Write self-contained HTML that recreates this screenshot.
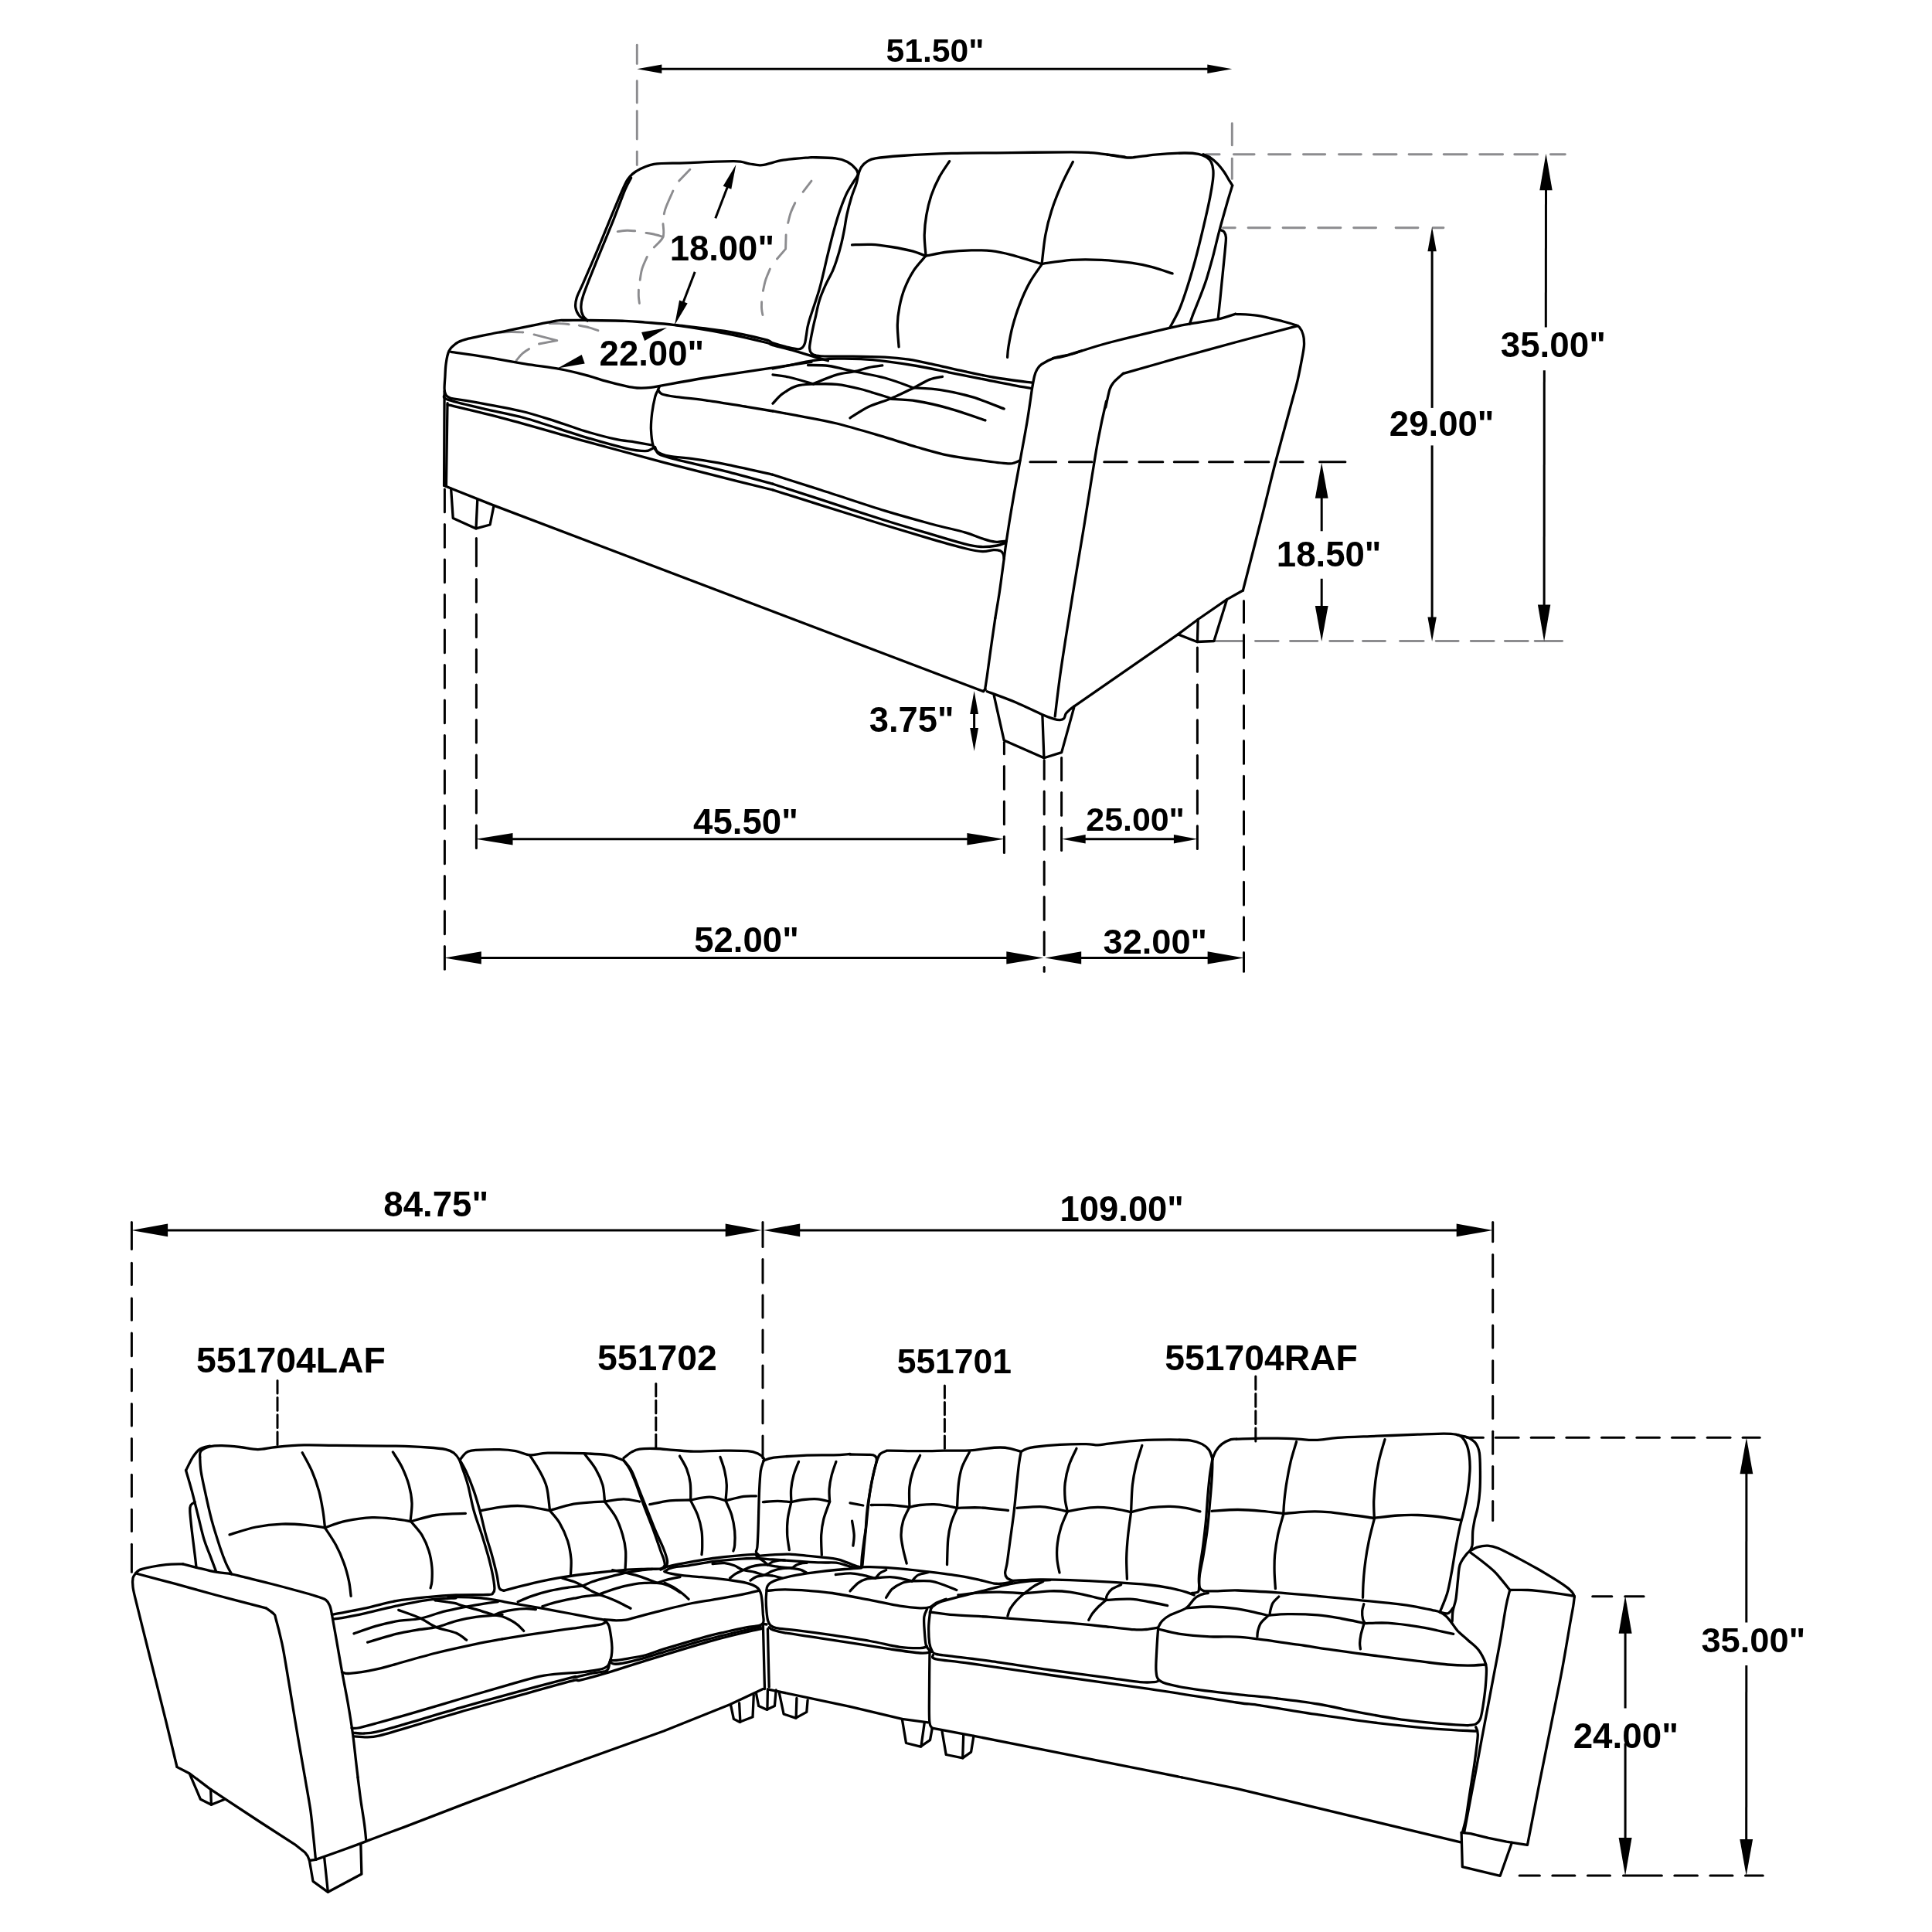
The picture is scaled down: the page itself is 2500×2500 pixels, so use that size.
<!DOCTYPE html>
<html lang="en"><head><meta charset="utf-8"><title>Sectional sofa dimensions</title>
<style>
html,body{margin:0;padding:0;background:#fff}
body{width:2500px;height:2500px;overflow:hidden}
svg{display:block;will-change:transform}
text{font-family:"Liberation Sans",Arial,Helvetica,sans-serif;font-weight:700;fill:#000}
path{fill:none;stroke-linecap:round;stroke-linejoin:round}
.k{stroke:#000;stroke-width:3.3}
.g{stroke:#8c8c8f;stroke-width:2.9}
.d{stroke:#000;stroke-width:3.0}
.m{stroke:#000;stroke-width:3.0}
.m{stroke-linecap:butt}
</style></head><body>
<svg width="2500" height="2500" viewBox="0 0 2500 2500" role="img" aria-label="Sectional sofa dimension drawing">
<rect width="2500" height="2500" fill="#fff"/>
<g class="g">
<path class="g" d="M892.9 219.3 L878.7 234.1"/>
<path class="g" d="M870.9 247 C869.4 250.5 863.8 262.8 861.9 267.7 C859.9 272.7 859.7 275.3 859.3 276.8"/>
<path class="g" d="M858 289.7 C858 292.5 859.9 301.5 858 306.6 C856 311.6 848.3 317.8 846.3 320"/>
<path class="g" d="M837.3 332.4 C836.2 335 832.3 343 830.8 348 C829.3 352.9 828.6 359.8 828.2 362.2"/>
<path class="g" d="M826.4 375.1 C826.4 376.7 826.2 381.3 826.4 384.2 C826.6 387.1 827.3 391.1 827.4 392.5"/>
<path class="g" d="M799.2 299.6 C801.3 299.4 807.6 298.4 811.4 298.3 C815.1 298.2 820 298.7 821.7 298.8"/>
<path class="g" d="M836 301.4 C837.9 301.7 844 302.6 847.6 303.5 C851.3 304.3 856.2 306 858 306.6"/>
<path class="g" d="M1050 234.1 L1039.1 248.3"/>
<path class="g" d="M1028.8 262.6 C1027.8 264.7 1024.6 271.2 1023.1 275.5 C1021.6 279.8 1020.3 286.3 1019.7 288.4"/>
<path class="g" d="M1017.1 304 L1016.6 322.1 L1005.5 335"/>
<path class="g" d="M996.4 348 C995.5 350.3 992.2 357.5 990.7 362.2 C989.2 366.9 987.9 374.1 987.4 376.4"/>
<path class="g" d="M985.6 390.7 C985.6 392.2 985.3 396.9 985.6 399.7 C985.8 402.5 986.6 406.2 986.9 407.5"/>
<path class="g" d="M711 418.6 C713 418.6 719.2 418.5 723.4 418.6 C727.6 418.8 734.2 419.5 736.3 419.7"/>
<path class="g" d="M749.3 421.2 C751.4 421.6 758.1 422.7 762.2 423.8 C766.3 424.9 771.9 427 773.9 427.7"/>
<path class="g" d="M645.8 430.3 C648.3 430.1 656.1 429.5 661.3 429.5 C666.5 429.4 674.2 429.9 676.8 430"/>
<path class="g" d="M691 432.9 L720.8 440.6 L697.5 445"/>
<path class="g" d="M684.6 451.5 C683.1 452.6 678.3 455.4 675.5 458 C672.7 460.5 669 465.5 667.8 467"/>
<path class="g" d="M824.3 58.2 L824.3 82.6"/>
<path class="g" d="M824.3 104.8 L824.3 133.1"/>
<path class="g" d="M824.3 143.6 L824.3 180.1"/>
<path class="g" d="M824.3 196.2 L824.3 213.6"/>
<path class="g" d="M1594.3 159.7 L1594.3 187.9"/>
<path class="g" d="M1594.3 205.2 L1594.3 231.4"/>
<path class="g" d="M1560.7 199.8 L1578.1 199.8"/>
<path class="g" d="M1596.4 199.8 L1623.1 199.8"/>
<path class="g" d="M1641.5 199.8 L1669.7 199.8"/>
<path class="g" d="M1686.5 199.8 L1714.7 199.8"/>
<path class="g" d="M1732.5 199.8 L1761.3 199.8"/>
<path class="g" d="M1777.5 199.8 L1807 199.8"/>
<path class="g" d="M1823.1 199.8 L1852.3 199.8"/>
<path class="g" d="M1868.2 199.8 L1898 199.8"/>
<path class="g" d="M1914.8 199.8 L1944.6 199.8"/>
<path class="g" d="M1959.8 199.8 L1989.6 199.8"/>
<path class="g" d="M2006.4 199.8 L2025.3 199.8"/>
<path class="g" d="M1582.5 294.7 L1598.3 294.7"/>
<path class="g" d="M1615.1 294.7 L1643.3 294.7"/>
<path class="g" d="M1660.1 294.7 L1688.4 294.7"/>
<path class="g" d="M1705.7 294.7 L1734.9 294.7"/>
<path class="g" d="M1751.7 294.7 L1780.6 294.7"/>
<path class="g" d="M1806.1 294.7 L1834.9 294.7"/>
<path class="g" d="M1854.2 294.7 L1867.9 294.7"/>
<path class="g" d="M1571.7 829.5 L1608.6 829.5"/>
<path class="g" d="M1624.5 829.5 L1654.1 829.5"/>
<path class="g" d="M1669.6 829.5 L1704.8 829.5"/>
<path class="g" d="M1720.8 829.5 L1750.5 829.5"/>
<path class="g" d="M1763.5 829.5 L1792.4 829.5"/>
<path class="g" d="M1811.6 829.5 L1842.1 829.5"/>
<path class="g" d="M1858.2 829.5 L1887.1 829.5"/>
<path class="g" d="M1903.3 829.5 L1933.1 829.5"/>
<path class="g" d="M1947.4 829.5 L1977.2 829.5"/>
<path class="g" d="M1986.2 829.5 L2021.6 829.5"/>
</g>
<g class="d">
<path class="d" d="M359 1786.4 L359 1803.1"/>
<path class="d" d="M359 1808.6 L359 1825.2"/>
<path class="d" d="M359 1830.8 L359 1847.4"/>
<path class="d" d="M359 1852.9 L359 1869.6"/>
<path class="d" d="M848.8 1790.4 L848.8 1806.8"/>
<path class="d" d="M848.8 1812.3 L848.8 1828.8"/>
<path class="d" d="M848.8 1834.2 L848.8 1850.7"/>
<path class="d" d="M848.8 1856.2 L848.8 1872.6"/>
<path class="d" d="M1222.4 1792.9 L1222.4 1809.1"/>
<path class="d" d="M1222.4 1814.6 L1222.4 1830.8"/>
<path class="d" d="M1222.4 1836.3 L1222.4 1852.5"/>
<path class="d" d="M1222.4 1858 L1222.4 1874.2"/>
<path class="d" d="M1624.8 1781.1 L1624.8 1797.9"/>
<path class="d" d="M1624.8 1803.4 L1624.8 1820.3"/>
<path class="d" d="M1624.8 1825.8 L1624.8 1842.6"/>
<path class="d" d="M1624.8 1848.1 L1624.8 1864.9"/>
<path class="d" d="M170.4 1581.5 L170.4 1616.6"/>
<path class="d" d="M170.4 1634.3 L170.4 1662.6"/>
<path class="d" d="M170.4 1680 L170.4 1708.2"/>
<path class="d" d="M170.4 1725 L170.4 1754.8"/>
<path class="d" d="M170.4 1771.6 L170.4 1799.8"/>
<path class="d" d="M170.4 1816.6 L170.4 1844.9"/>
<path class="d" d="M170.4 1861.6 L170.4 1889.9"/>
<path class="d" d="M170.4 1908.2 L170.4 1936.5"/>
<path class="d" d="M170.4 1953.3 L170.4 1981.5"/>
<path class="d" d="M170.4 1998.3 L170.4 2034.3"/>
<path class="d" d="M987 1581.5 L987 1613.5"/>
<path class="d" d="M987 1629.4 L987 1660.1"/>
<path class="d" d="M987 1675.9 L987 1705.1"/>
<path class="d" d="M987 1721 L987 1750.2"/>
<path class="d" d="M987 1766.9 L987 1795.8"/>
<path class="d" d="M987 1812 L987 1841.8"/>
<path class="d" d="M987 1857.9 L987 1886.8"/>
<path class="d" d="M1931.7 1581.5 L1931.7 1606.7"/>
<path class="d" d="M1931.7 1623.4 L1931.7 1652.3"/>
<path class="d" d="M1931.7 1669.1 L1931.7 1698"/>
<path class="d" d="M1931.7 1715.1 L1931.7 1743.9"/>
<path class="d" d="M1931.7 1760.7 L1931.7 1789.6"/>
<path class="d" d="M1931.7 1806.4 L1931.7 1835.6"/>
<path class="d" d="M1931.7 1852.3 L1931.7 1881.2"/>
<path class="d" d="M1931.7 1897.4 L1931.7 1926.6"/>
<path class="d" d="M1931.7 1942.4 L1931.7 1967.5"/>
<path class="d" d="M1898 1860.2 L1919.4 1860.2"/>
<path class="d" d="M1935.3 1860.2 L1965.1 1860.2"/>
<path class="d" d="M1981.2 1860.2 L2010.7 1860.2"/>
<path class="d" d="M2026.9 1860.2 L2056.1 1860.2"/>
<path class="d" d="M2072.5 1860.2 L2101.7 1860.2"/>
<path class="d" d="M2117.9 1860.2 L2147.4 1860.2"/>
<path class="d" d="M2163.5 1860.2 L2192.7 1860.2"/>
<path class="d" d="M2209.2 1860.2 L2239 1860.2"/>
<path class="d" d="M2255.1 1860.2 L2277.2 1860.2"/>
<path class="d" d="M2060.7 2065.7 L2085.8 2065.7"/>
<path class="d" d="M2102.7 2065.7 L2127.1 2065.7"/>
<path class="d" d="M1966.1 2427.1 L1992.4 2427.1"/>
<path class="d" d="M2008.8 2427.1 L2037.9 2427.1"/>
<path class="d" d="M2054.4 2427.1 L2083.5 2427.1"/>
<path class="d" d="M2100.5 2427.1 L2150.4 2427.1"/>
<path class="d" d="M2166.8 2427.1 L2196.5 2427.1"/>
<path class="d" d="M2212.9 2427.1 L2242 2427.1"/>
<path class="d" d="M2258.5 2427.1 L2281.3 2427.1"/>
<path class="d" d="M1332.9 597.7 L1366.6 597.7"/>
<path class="d" d="M1383.4 597.7 L1412.9 597.7"/>
<path class="d" d="M1428.7 597.7 L1458.2 597.7"/>
<path class="d" d="M1474 597.7 L1504.8 597.7"/>
<path class="d" d="M1519.3 597.7 L1550.1 597.7"/>
<path class="d" d="M1564.5 597.7 L1595.4 597.7"/>
<path class="d" d="M1611.2 597.7 L1641.9 597.7"/>
<path class="d" d="M1656.7 597.7 L1686.1 597.7"/>
<path class="d" d="M1707.6 597.7 L1740.9 597.7"/>
<path class="d" d="M575.4 633.1 L575.4 662.8"/>
<path class="d" d="M575.4 678.6 L575.4 708.3"/>
<path class="d" d="M575.4 724.1 L575.4 753.8"/>
<path class="d" d="M575.4 769.6 L575.4 799.3"/>
<path class="d" d="M575.4 815.1 L575.4 844.8"/>
<path class="d" d="M575.4 860.6 L575.4 890.3"/>
<path class="d" d="M575.4 906.1 L575.4 935.8"/>
<path class="d" d="M575.4 951.6 L575.4 981.3"/>
<path class="d" d="M575.4 997.1 L575.4 1026.8"/>
<path class="d" d="M575.4 1042.6 L575.4 1072.3"/>
<path class="d" d="M575.4 1088.1 L575.4 1117.8"/>
<path class="d" d="M575.4 1133.6 L575.4 1163.3"/>
<path class="d" d="M575.4 1179.1 L575.4 1208.8"/>
<path class="d" d="M575.4 1224.6 L575.4 1254.3"/>
<path class="d" d="M616.4 696.6 L616.4 732.6"/>
<path class="d" d="M616.4 749.4 L616.4 779.1"/>
<path class="d" d="M616.4 794.9 L616.4 824.6"/>
<path class="d" d="M616.4 840.4 L616.4 870.1"/>
<path class="d" d="M616.4 885.9 L616.4 915.6"/>
<path class="d" d="M616.4 931.4 L616.4 961.1"/>
<path class="d" d="M616.4 976.9 L616.4 1006.6"/>
<path class="d" d="M616.4 1022.4 L616.4 1052.1"/>
<path class="d" d="M616.4 1067.9 L616.4 1097.6"/>
<path class="d" d="M1299.4 960.4 L1299.4 975.7"/>
<path class="d" d="M1299.4 991.5 L1299.4 1021.2"/>
<path class="d" d="M1299.4 1037 L1299.4 1066.7"/>
<path class="d" d="M1299.4 1082.5 L1299.4 1103.6"/>
<path class="d" d="M1351.2 983.7 L1351.2 1008.3"/>
<path class="d" d="M1351.2 1024.1 L1351.2 1053.8"/>
<path class="d" d="M1351.2 1069.6 L1351.2 1099.3"/>
<path class="d" d="M1351.2 1115.1 L1351.2 1144.8"/>
<path class="d" d="M1351.2 1160.6 L1351.2 1190.3"/>
<path class="d" d="M1351.2 1206.1 L1351.2 1235.8"/>
<path class="d" d="M1351.2 1251.6 L1351.2 1257.3"/>
<path class="d" d="M1373.6 980.6 L1373.6 1009.8"/>
<path class="d" d="M1373.6 1025.6 L1373.6 1055.3"/>
<path class="d" d="M1373.6 1071.1 L1373.6 1100.5"/>
<path class="d" d="M1549.4 837.9 L1549.4 869.3"/>
<path class="d" d="M1549.4 886 L1549.4 915.7"/>
<path class="d" d="M1549.4 931.7 L1549.4 961.4"/>
<path class="d" d="M1549.4 977.4 L1549.4 1007.1"/>
<path class="d" d="M1549.4 1023.1 L1549.4 1052.8"/>
<path class="d" d="M1549.4 1068.8 L1549.4 1098.5"/>
<path class="d" d="M1609.5 777.4 L1609.5 805.6"/>
<path class="d" d="M1609.5 821.6 L1609.5 851.3"/>
<path class="d" d="M1609.5 867.2 L1609.5 897"/>
<path class="d" d="M1609.5 912.9 L1609.5 942.6"/>
<path class="d" d="M1609.5 958.5 L1609.5 988.2"/>
<path class="d" d="M1609.5 1004.2 L1609.5 1033.9"/>
<path class="d" d="M1609.5 1049.9 L1609.5 1079.5"/>
<path class="d" d="M1609.5 1095.5 L1609.5 1125.2"/>
<path class="d" d="M1609.5 1141.2 L1609.5 1170.9"/>
<path class="d" d="M1609.5 1186.8 L1609.5 1216.5"/>
<path class="d" d="M1609.5 1232.5 L1609.5 1257.3"/>
</g>
<g class="k">
<path class="k" d="M271.6 1871.2 C269.5 1871.8 262.4 1872.7 258.7 1875.1 C255 1877.4 252.7 1880.8 249.6 1885.4 C246.6 1890 242.1 1899.9 240.6 1902.7"/>
<path class="k" d="M240.6 1902.7 C241.9 1907.2 245.8 1919.8 248.3 1929.4 C250.9 1939 253.5 1950.1 256.1 1960.5 C258.7 1970.8 261.3 1982.9 263.9 1991.5 C266.5 2000.1 269 2005.3 271.6 2012.2 C274.2 2019.1 278.1 2029.5 279.4 2032.9"/>
<path class="k" d="M258.7 1885.4 C258.9 1884.1 257.8 1879.9 260 1877.6 C262.1 1875.4 267.1 1873.1 271.6 1871.9 C276.2 1870.8 280.7 1870.6 287.2 1870.7 C293.6 1870.7 302.7 1871.6 310.5 1872.5 C318.2 1873.3 326 1875.6 333.7 1875.6 C341.5 1875.6 347.1 1873.4 357 1872.5 C367 1871.5 380.3 1870.2 393.3 1869.9 C406.2 1869.5 414.8 1870.2 434.7 1870.4 C454.5 1870.6 492.5 1870.7 512.3 1871.2 C532.2 1871.6 542.9 1872.2 553.7 1873 C564.5 1873.7 571.4 1874.4 577 1875.6 C582.6 1876.8 584.6 1878.2 587.4 1880.2 C590.2 1882.3 592.1 1885 593.8 1888 C595.6 1891 595.8 1892.7 597.7 1898.3 C599.7 1904 602.9 1912.1 605.5 1921.6 C608.1 1931.1 610.2 1944.5 613.3 1955.3 C616.3 1966.1 620.6 1976.8 623.6 1986.3 C626.6 1995.8 629.2 2004.5 631.4 2012.2 C633.5 2020 635.1 2025.8 636.5 2032.9 C638 2040 639.7 2050.2 639.9 2054.9 C640.1 2059.7 639.3 2060 637.8 2061.4 C636.4 2062.8 639.3 2063 631.4 2063.5 C623.4 2063.9 602.9 2063.5 590 2064 C577 2064.5 566.7 2065.3 553.7 2066.6 C540.8 2067.9 525.7 2069.4 512.3 2071.7 C498.9 2074.1 487.3 2077.9 473.5 2080.8 C459.7 2083.7 436.8 2087.9 429.5 2089.3"/>
<path class="k" d="M258.7 1885.4 C258.9 1888.4 258.9 1896.2 260 1903.5 C261.1 1910.9 262.8 1918.6 265.2 1929.4 C267.5 1940.2 271 1956.1 274.2 1968.2 C277.5 1980.3 281.6 1992.8 284.6 2001.9 C287.6 2010.9 289.8 2016.7 292.3 2022.6 C294.8 2028.4 298.4 2034.4 299.6 2036.8"/>
<path class="k" d="M252.2 1943.6 C251.4 1944.3 248.1 1945.6 247 1947.5 C246 1949.5 245.5 1949.7 245.8 1955.3 C246 1960.9 247.3 1971.7 248.3 1981.2 C249.4 1990.6 251.3 2004.4 252.2 2012.2 C253.2 2020.1 253.7 2025.6 254 2028.3"/>
<path class="k" d="M391.2 1879.7 C393.3 1883.7 400 1895.2 403.6 1903.5 C407.2 1911.8 410.3 1920.8 412.7 1929.4 C415.1 1938 416.6 1947.5 417.9 1955.3 C419.2 1963 420 1972.5 420.4 1976"/>
<path class="k" d="M297 1985.8 C302.7 1984.2 319.9 1978.3 331.2 1976 C342.5 1973.7 354 1972.5 364.8 1972.1 C375.6 1971.7 386.6 1972.6 395.9 1973.4 C405.1 1974.2 416.3 1976.2 420.4 1976.8"/>
<path class="k" d="M420.4 1976.8 C425 1975.3 437.5 1970.4 447.6 1968.2 C457.8 1966 470.5 1964 481.3 1963.6 C492 1963.1 503.9 1964.8 512.3 1965.6 C520.7 1966.5 528.5 1968.2 531.7 1968.7"/>
<path class="k" d="M420.4 1976.8 C422.8 1980.5 430.6 1991.6 434.7 1999.3 C438.8 2006.9 442.2 2014.8 445 2022.6 C447.8 2030.3 450 2038.7 451.5 2045.9 C453 2053 453.7 2062 454.1 2065.3"/>
<path class="k" d="M508.4 1878.9 C510.4 1882.2 516.6 1891.2 520.1 1898.3 C523.5 1905.5 527 1913.9 529.1 1921.6 C531.3 1929.4 532.7 1937.1 533 1944.9 C533.3 1952.8 531.3 1964.8 531 1968.7"/>
<path class="k" d="M531.7 1968.7 C537.1 1967.4 552.3 1962.2 564.1 1960.5 C575.9 1958.7 596 1958.7 602.4 1958.4"/>
<path class="k" d="M531.7 1968.7 C534.1 1971.7 542.1 1980 546 1986.3 C549.8 1992.7 552.9 2000.1 555 2007 C557.2 2013.9 558.3 2021.3 558.9 2027.7 C559.5 2034.2 559.2 2041.3 558.9 2045.9 C558.6 2050.4 557.4 2053.4 557.1 2054.9"/>
<path class="k" d="M175.9 2035.5 C177.2 2034.6 177.2 2032.1 183.6 2030.3 C190.1 2028.5 205.9 2025.7 214.7 2024.6 C223.5 2023.6 233 2024 236.7 2023.9"/>
<path class="k" d="M236.7 2023.9 C239.6 2024.6 246.9 2026.5 254 2028.3 C261.2 2030 271.8 2032.8 279.4 2034.2 C287 2035.6 293.5 2035.7 299.6 2036.8 C305.6 2037.9 306.1 2038.3 315.6 2040.7 C325.2 2043.1 341.5 2046.9 357 2051 C372.6 2055.1 398 2062 408.8 2065.3 C419.6 2068.5 418.7 2068.3 421.7 2070.4 C424.8 2072.6 425.6 2075.1 426.9 2078.2 C428.2 2081.4 429.1 2087.5 429.5 2089.3"/>
<path class="k" d="M175.9 2035.5 C175.2 2036.6 172.6 2039 172 2042 C171.4 2045 171.4 2048.7 172 2053.6 C172.6 2058.6 173.1 2060.1 175.9 2071.7 C178.7 2083.4 184.5 2106.2 188.8 2123.5 C193.1 2140.8 197.4 2158 201.8 2175.3 C206.1 2192.5 210.2 2208.6 214.7 2227 C219.2 2245.5 226.6 2276.2 228.9 2286"/>
<path class="k" d="M175.9 2036 C184.5 2038.3 210.4 2045.1 227.6 2049.7 C244.9 2054.4 260 2058.8 279.4 2064 C298.8 2069.2 333.3 2078 344.1 2080.8"/>
<path class="k" d="M344.1 2080.8 C345.8 2082.1 352.3 2086.2 354.5 2088.6 C356.6 2090.9 355.3 2088.8 357 2095 C358.8 2101.3 362.6 2116.2 364.8 2126.1 C367 2136 367.8 2142 370 2154.6 C372.1 2167.1 375.2 2185.6 377.7 2201.1 C380.3 2216.7 382.7 2231.2 385.5 2247.7 C388.3 2264.2 393.1 2291.3 394.6 2300"/>
<path class="k" d="M429.5 2089.3 C430.4 2094.2 432.5 2106.2 434.7 2118.3 C436.8 2130.5 439.9 2148.1 442.4 2162.3 C445 2176.6 447.8 2189.9 450.2 2203.7 C452.6 2217.5 455 2232.6 456.7 2245.1 C458.4 2257.6 459.5 2269.6 460.6 2278.8 C461.6 2287.9 462.7 2296.5 463.1 2300"/>
<path class="k" d="M430.8 2095 C432.7 2094.8 435.3 2095 442.4 2093.7 C449.6 2092.4 461.9 2089.9 473.5 2087.3 C485.1 2084.7 498.9 2081 512.3 2078.2 C525.7 2075.4 540.8 2072.2 553.7 2070.4 C566.7 2068.7 583.9 2068.3 590 2067.9"/>
<path class="k" d="M442.4 2163.6 C444.2 2163.9 445.5 2166 452.8 2165.4 C460.1 2164.9 476.5 2162.3 486.4 2160.2 C496.4 2158.2 499.4 2156.8 512.3 2153.3 C525.3 2149.7 546.8 2143.3 564.1 2139 C581.3 2134.7 601.5 2130.4 615.8 2127.4 C630.2 2124.4 644.3 2122 650 2120.9"/>
<path class="k" d="M458 2113.9 C462.7 2112.3 476.5 2106.9 486.4 2104.1 C496.4 2101.3 508 2098.7 517.5 2097.1 C527 2095.5 533.5 2096.6 543.4 2094.5 C553.3 2092.4 564.9 2087.6 577 2084.7 C589.1 2081.7 604.6 2078.9 615.8 2076.9 C627.1 2074.9 639.6 2073.2 644.3 2072.5"/>
<path class="k" d="M515.7 2083.4 C520.3 2085.1 535.3 2090.1 543.4 2093.7 C551.4 2097.4 556.3 2102.1 564.1 2105.4 C571.8 2108.6 583.4 2110.3 590 2113.1 C596.6 2116 601.4 2120.7 603.7 2122.2"/>
<path class="k" d="M475.6 2125.1 C481.7 2123.3 501.9 2117.1 512.3 2114.4 C522.8 2111.8 529.4 2110.8 538.2 2109.3 C547 2107.8 556.7 2107.3 565.4 2105.4 C574 2103.4 581.5 2099.8 590 2097.6 C598.4 2095.5 605.8 2093.8 615.8 2092.4 C625.8 2091.1 644.3 2089.9 650 2089.3"/>
<path class="k" d="M595.1 1889.3 C595.9 1888.2 598.3 1884.6 600 1882.8 C601.7 1881 602.6 1879.5 605.2 1878.4 C607.8 1877.3 608.6 1876.8 615.5 1876.3 C622.4 1875.9 638 1875.4 646.6 1875.6 C655.2 1875.8 660.8 1876.4 667.3 1877.6 C673.8 1878.8 678.5 1882.4 685.4 1882.8 C692.3 1883.2 697 1880.6 708.7 1880.2 C720.3 1879.9 742.3 1880.3 755.3 1880.7 C768.2 1881.2 779 1881.8 786.3 1882.8 C793.7 1883.8 795.8 1885.5 799.3 1886.7 C802.7 1887.9 805.7 1889.3 807 1889.8"/>
<path class="k" d="M595.1 1889.3 C596.4 1891.7 599.8 1896.8 602.8 1903.5 C605.9 1910.2 610.2 1920.8 613.2 1929.4 C616.2 1938 618.4 1945.8 621 1955.3 C623.6 1964.8 626.1 1976.8 628.7 1986.3 C631.3 1995.8 634.1 2003.6 636.5 2012.2 C638.9 2020.8 641.4 2031 643 2038.1 C644.6 2045.2 644.6 2051.6 646.1 2054.9 C647.5 2058.3 650.8 2057.7 651.8 2058.3"/>
<path class="k" d="M651.8 2058.3 C658.2 2056.6 677.6 2051.4 690.6 2048.4 C703.5 2045.5 716.5 2042.8 729.4 2040.7 C742.3 2038.5 755.3 2037 768.2 2035.5 C781.2 2034 796.3 2032.5 807 2031.6 C817.8 2030.8 824.9 2030.6 832.9 2030.3 C840.9 2030 850.4 2030.7 854.9 2029.8 C859.4 2029 859.4 2027.2 860.1 2025.2 C860.7 2023.1 859.7 2020.4 858.8 2017.4 C857.9 2014.4 857.1 2013.1 854.9 2007 C852.8 2001 849.5 1991.1 845.9 1981.2 C842.2 1971.2 836.8 1957.9 832.9 1947.5 C829 1937.2 825.6 1926.8 822.6 1919 C819.5 1911.3 817.4 1905.8 814.8 1900.9 C812.2 1896.1 808.3 1891.7 807 1889.8"/>
<path class="k" d="M807 1889.8 C808.8 1892.1 813.9 1896.9 817.4 1903.5 C820.8 1910.1 824.3 1920.8 827.7 1929.4 C831.2 1938 834.6 1946.7 838.1 1955.3 C841.5 1963.9 845 1973 848.4 1981.2 C851.9 1989.4 856.3 1998 858.8 2004.5 C861.3 2010.9 863 2016.1 863.5 2020 C863.9 2023.9 862.8 2025.9 861.4 2027.7 C860 2029.6 856 2030.5 854.9 2031.1"/>
<path class="k" d="M685.4 1882.8 C687.6 1886.3 694.7 1896.6 698.3 1903.5 C702 1910.4 705.2 1916 707.4 1924.2 C709.6 1932.4 710.6 1947.9 711.3 1952.7"/>
<path class="k" d="M623.3 1954.5 C628 1953.7 642.7 1950.5 651.8 1949.6 C660.8 1948.6 667.7 1948 677.6 1948.8 C687.6 1949.6 705.7 1953.6 711.3 1954.5"/>
<path class="k" d="M711.3 1954.5 C716.5 1953.1 732.9 1948 742.3 1946.2 C751.8 1944.4 761.5 1944.2 768.2 1943.6 C774.9 1943.1 780.1 1943.2 782.5 1943.1"/>
<path class="k" d="M711.3 1954.5 C713.4 1957.2 720.3 1964.2 724.2 1970.8 C728.1 1977.4 732.1 1986.3 734.6 1994.1 C737 2001.9 738.3 2010.1 739 2017.4 C739.6 2024.7 738.5 2034.6 738.5 2038.1"/>
<path class="k" d="M756.6 1881.5 C758.9 1884.8 766.9 1894.2 770.8 1900.9 C774.7 1907.6 777.9 1914.7 779.9 1921.6 C781.8 1928.5 782 1938.9 782.5 1942.3"/>
<path class="k" d="M782.5 1943.1 C786.6 1942.6 799.5 1939.8 807 1939.8 C814.6 1939.8 824.3 1942.6 827.7 1943.1"/>
<path class="k" d="M782.5 1943.1 C784.8 1946.4 792.8 1955.8 796.7 1963 C800.6 1970.2 803.6 1979 805.7 1986.3 C807.9 1993.7 809.1 1999.7 809.6 2007 C810.2 2014.4 809.2 2026.4 809.1 2030.3"/>
<path class="k" d="M807 1886.7 C808.8 1885.4 813.9 1880.9 817.4 1878.9 C820.8 1877 822.6 1875.8 827.7 1875.1 C832.9 1874.3 841.1 1874.3 848.4 1874.5 C855.8 1874.7 863.5 1875.7 871.7 1876.3 C879.9 1876.9 886.8 1878 897.6 1878.2 C908.4 1878.3 924.8 1877.2 936.4 1877.1 C948.1 1877 960.2 1877 967.5 1877.6 C974.8 1878.2 977 1879.2 980.4 1880.7 C983.9 1882.3 986.9 1885.1 988.2 1886.7 C989.5 1888.3 988.2 1889.5 988.2 1890.1"/>
<path class="k" d="M988.2 1890.1 C987.6 1892.3 985.3 1897 984.3 1903.5 C983.4 1910.1 982.9 1920.8 982.5 1929.4 C982.1 1938 982 1946.7 981.7 1955.3 C981.5 1963.9 981.3 1973.4 981 1981.2 C980.7 1988.9 980.3 1997.3 979.9 2001.9 C979.5 2006.4 978.1 2006.6 978.4 2008.3 C978.7 2010.1 981.2 2011.6 981.7 2012.2"/>
<path class="k" d="M879.5 1884.1 C881 1886.9 886.3 1895.1 888.6 1900.9 C890.8 1906.8 892.4 1912.4 893.2 1919 C894.1 1925.7 893.7 1937.4 893.7 1941"/>
<path class="k" d="M840.7 1946.7 C845 1945.9 857.7 1942.8 866.6 1941.8 C875.4 1940.9 889.2 1941.2 893.7 1941"/>
<path class="k" d="M893.7 1941 C897.8 1940.4 910.8 1937 918.3 1937.2 C925.9 1937.3 935.6 1941 939 1941.8"/>
<path class="k" d="M939 1941.8 C942.9 1940.9 955.8 1937.4 962.3 1936.4 C968.9 1935.4 975.7 1936 978.4 1935.9"/>
<path class="k" d="M893.7 1941.8 C895.2 1944.9 900.4 1953.9 902.8 1960.5 C905.2 1967 907 1974.3 908 1981.2 C909 1988.1 908.7 1996.8 908.7 2001.9 C908.7 2007 908.1 2010.1 908 2011.7"/>
<path class="k" d="M932 1885.4 C933 1888.4 936.4 1897.5 937.7 1903.5 C939.1 1909.6 940.1 1915.3 940.3 1921.6 C940.5 1928 939.2 1938.5 939 1941.8"/>
<path class="k" d="M939 1941.8 C940.3 1944.9 944.8 1953.9 946.8 1960.5 C948.7 1967 950 1974.7 950.7 1981.2 C951.3 1987.6 951 1995 950.7 1999.3 C950.4 2003.6 949.2 2005.7 948.9 2007"/>
<path class="k" d="M988.2 1890.1 C990.4 1889.4 992.5 1887.3 1001.1 1886.2 C1009.8 1885.1 1027 1883.9 1040 1883.3 C1052.9 1882.8 1068.8 1883.1 1078.8 1882.8 C1088.8 1882.5 1096.5 1881.7 1100 1881.5"/>
<path class="k" d="M1033.5 1891.4 C1032.4 1894.2 1028.7 1902.8 1027 1908.7 C1025.4 1914.6 1024.2 1921.1 1023.7 1926.8 C1023.1 1932.5 1023.9 1940.4 1023.9 1943.1"/>
<path class="k" d="M987.4 1943.6 C990.6 1943.4 1000.2 1942.3 1006.3 1942.3 C1012.4 1942.3 1021 1943.4 1023.9 1943.6"/>
<path class="k" d="M1023.9 1943.6 C1026.6 1943.1 1034.3 1941.2 1040 1940.5 C1045.7 1939.9 1052.5 1939.3 1058.1 1939.8 C1063.7 1940.2 1071 1942.6 1073.6 1943.1"/>
<path class="k" d="M1023.9 1943.6 C1023.1 1947.3 1020.1 1958.5 1019.3 1965.6 C1018.4 1972.7 1018.4 1979.6 1018.7 1986.3 C1019.1 1993 1020.9 2002.5 1021.3 2005.7"/>
<path class="k" d="M1081.9 1891.4 C1080.9 1894.2 1077.7 1902.8 1076.2 1908.7 C1074.7 1914.6 1073.5 1921.1 1073.1 1926.8 C1072.7 1932.5 1073.5 1940.4 1073.6 1943.1"/>
<path class="k" d="M1073.6 1943.1 C1072.3 1946.9 1067.7 1958.4 1065.8 1965.6 C1064 1972.8 1063.2 1978.6 1062.7 1986.3 C1062.3 1994.1 1063.2 2007.9 1063.3 2012.2"/>
<path class="k" d="M987.4 2102.8 L989.5 2185.6"/>
<path class="k" d="M993.4 2108 L995.2 2183"/>
<path class="k" d="M691.9 2300 L858.8 2240 L944.2 2205.8 L987.4 2185.6"/>
<path class="k" d="M945.5 2205.8 L949.4 2224.4 L957.1 2228.3 L974 2221.8 L975.3 2193.4"/>
<path class="k" d="M956.6 2203.7 L957.9 2228.3"/>
<path class="k" d="M978.4 2190.8 L981.7 2207.6 L992.1 2212.3 L1002.4 2207.6 L1004.2 2186.9"/>
<path class="k" d="M993.4 2185.6 L992.9 2212.3"/>
<path class="k" d="M1008.4 2190.8 L1014.1 2218 L1029.6 2223.1 L1043.8 2215.4 L1045.1 2199.8"/>
<path class="k" d="M1030.9 2197.3 L1030.1 2223.1"/>
<path class="k" d="M580 2066.3 C585.2 2066.4 602 2066.5 611.1 2067 C620.1 2067.4 627.4 2068.3 634.3 2069.3 C641.3 2070.3 646.5 2071.7 653 2072.9 C659.5 2074 664.6 2074.8 673.2 2076.3 C681.7 2077.7 693.9 2079.8 704.2 2081.7 C714.6 2083.6 724.9 2085.5 735.3 2087.5 C745.6 2089.4 758.8 2092 766.3 2093.4 C773.8 2094.8 777.5 2095.1 780.3 2095.8 C783.2 2096.6 782.9 2097.7 783.4 2098"/>
<path class="k" d="M650 2120.8 C659.1 2119.4 687.4 2114.8 704.2 2112.3 C721 2109.8 739.2 2107.4 750.8 2105.8 C762.5 2104.2 768.9 2103.6 774.1 2102.7 C779.3 2101.8 780.3 2101.2 781.9 2100.3 C783.4 2099.5 783.2 2098.1 783.4 2097.7"/>
<path class="k" d="M783.4 2097.2 C784.2 2098.4 786.8 2100.5 788.1 2104.2 C789.3 2108 790.2 2115.1 790.9 2119.8 C791.5 2124.4 791.9 2128.3 792 2132.2 C792 2136.1 791.7 2139.9 791.2 2143 C790.7 2146.1 789.6 2148.7 788.9 2150.8 C788.1 2152.9 787.7 2154.2 786.5 2155.5 C785.4 2156.8 783.9 2157.7 781.9 2158.6 C779.8 2159.4 779.3 2159.7 774.1 2160.6 C768.9 2161.5 762.5 2162.6 750.8 2163.9 C739.1 2165.1 719.6 2165.4 704 2168.2 C688.4 2171 675.5 2175.3 657.4 2180.4 C639.3 2185.5 616 2192.4 595.3 2198.5 C574.6 2204.6 551.3 2211.6 533.2 2216.8 C515.1 2222.1 498.2 2226.8 486.6 2230 C475 2233.2 468.6 2235 463.3 2236 C458 2237 456.4 2236 455 2236"/>
<path class="k" d="M788.9 2150.8 C788.6 2152.1 788.2 2156.6 787.3 2158.6 C786.4 2160.5 786.9 2161.3 783.4 2162.5 C779.9 2163.6 773.1 2163.9 766.3 2165.2 C759.6 2166.6 747.4 2169.8 743 2170.7 C738.7 2171.6 751.7 2167.6 740 2170.6 C728.3 2173.6 697 2181.8 672.9 2188.4 C648.8 2195 621.2 2202.5 595.3 2209.9 C569.4 2217.3 535.7 2227.7 517.6 2232.9 C499.5 2238.1 494.4 2239.5 486.6 2241.2 C478.9 2242.9 476 2242.8 471.1 2243 C466.2 2243.2 459.4 2242.4 457.1 2242.3"/>
<path class="k" d="M562.9 2070.8 C565.8 2071.2 575.6 2072.5 580 2073.2 C584.4 2073.8 586.2 2073.9 589.3 2074.7 C592.4 2075.5 593.7 2076.4 598.6 2077.8 C603.6 2079.2 612.2 2081.3 618.8 2083.3 C625.4 2085.2 633.1 2088 638.2 2089.5 C643.4 2090.9 646.1 2090.6 649.9 2091.8 C653.6 2093 657.4 2094.6 660.7 2096.5 C664.1 2098.3 667.2 2100.3 670.1 2102.7 C672.9 2105 676.5 2109.1 677.8 2110.4"/>
<path class="k" d="M638.2 2090.2 C640.2 2089.5 645.3 2087.1 649.9 2085.9 C654.4 2084.7 660.2 2083.5 665.4 2082.8 C670.6 2082.1 676.3 2081.8 680.9 2081.7 C685.6 2081.7 691.3 2082.4 693.4 2082.5"/>
<path class="k" d="M670.1 2072.7 C673.2 2071.4 681.7 2067.5 688.7 2065.1 C695.7 2062.7 704.2 2060.2 712 2058.4 C719.8 2056.6 728.3 2055.3 735.3 2054.2 C742.3 2053.2 750.8 2052.5 753.9 2052.2"/>
<path class="k" d="M727.5 2042.1 C730.1 2042.9 738.6 2045.1 743 2046.8 C747.4 2048.5 750 2050.1 753.9 2052.2 C757.8 2054.3 762.5 2057.3 766.3 2059.2 C770.2 2061.1 773.3 2062.3 777.2 2063.9 C781.1 2065.4 785.5 2066.8 789.6 2068.5 C793.8 2070.2 797.7 2071.8 802 2073.9 C806.4 2076.1 813.7 2080 816 2081.2"/>
<path class="k" d="M753.9 2052.2 C756 2051.3 761.7 2048.5 766.3 2046.8 C771 2045.1 776.7 2043.5 781.9 2042.1 C787 2040.7 792.7 2039.4 797.4 2038.2 C802 2037.1 807.7 2035.6 809.8 2035.1"/>
<path class="k" d="M792.7 2031.6 C794.3 2031.9 799.2 2033 802 2033.6 C804.9 2034.2 806.4 2034.3 809.8 2035.1 C813.2 2035.9 817.8 2036.9 822.2 2038.2 C826.6 2039.5 831.6 2041.2 836.2 2042.9 C840.9 2044.6 847.9 2047.4 850.2 2048.3"/>
<path class="k" d="M701.9 2078.6 C704.9 2077.7 712.9 2074.9 719.8 2073.2 C726.6 2071.4 736.6 2069.5 743 2068.2 C749.5 2066.9 752.9 2066.1 758.6 2065.4 C764.3 2064.7 774.1 2064.1 777.2 2063.9"/>
<path class="k" d="M777.2 2062.3 C780.6 2061.1 790.1 2057.4 797.4 2055.3 C804.6 2053.2 814.2 2051 820.7 2049.9 C827.2 2048.7 831.3 2048.6 836.2 2048.3 C841.1 2048.1 847.9 2048.3 850.2 2048.3"/>
<path class="k" d="M850.2 2048.3 C852.3 2047.7 857.6 2045.7 862.6 2044.4 C867.6 2043.1 877.1 2041.2 880 2040.6"/>
<path class="k" d="M850.2 2048.3 C851.7 2048.6 856.1 2048.8 859.5 2049.9 C862.9 2050.9 867 2052.7 870.4 2054.5 C873.8 2056.3 878.4 2059.7 880 2060.7"/>
<path class="k" d="M809.8 2035.1 C812.9 2034.6 822.8 2032.8 828.4 2032 C834.1 2031.2 841.4 2030.7 844 2030.5"/>
<path class="k" d="M1120.1 1980 C1119.7 1982.6 1118.5 1989.8 1117.8 1995.5 C1117 2001.2 1116 2009 1115.4 2014.2 C1114.9 2019.3 1114.8 2024.5 1114.7 2026.6"/>
<path class="k" d="M860 2028.1 C861.6 2027.7 864.1 2026.9 869.3 2025.8 C874.5 2024.7 882.3 2023.2 891.1 2021.6 C899.9 2020.1 911.8 2017.9 922.1 2016.5 C932.5 2015.1 944.1 2013.9 953.2 2013.1 C962.2 2012.2 971.9 2011.3 976.5 2011.4 C981 2011.4 976.5 2013.3 980.3 2013.4 C984.2 2013.5 992.9 2012.2 999.8 2011.8 C1006.6 2011.4 1013.7 2010.8 1021.5 2011.1 C1029.3 2011.3 1036.2 2012.3 1046.3 2013.4 C1056.4 2014.4 1073.8 2015.8 1082 2017.3 C1090.3 2018.7 1091.6 2020.4 1096 2021.9 C1100.4 2023.5 1105.3 2025.5 1108.4 2026.6 C1111.6 2027.6 1113.6 2027.9 1114.7 2028.1"/>
<path class="k" d="M860 2033.6 C861 2032.9 863.6 2030.7 866.2 2029.7 C868.8 2028.7 871.4 2028 875.5 2027.4 C879.7 2026.7 883.3 2026.9 891.1 2025.8 C898.8 2024.7 911.8 2022.1 922.1 2020.7 C932.5 2019.3 944.1 2018.3 953.2 2017.6 C962.2 2016.9 968.7 2016.4 976.5 2016.5 C984.2 2016.6 990.7 2017.4 999.8 2018 C1008.8 2018.6 1020.5 2019.4 1030.8 2020.1 C1041.2 2020.7 1053.3 2021.6 1061.9 2021.9 C1070.4 2022.3 1076.4 2021.6 1082 2022.2 C1087.7 2022.9 1091.6 2024.6 1096 2025.8 C1100.4 2027 1106.4 2028.8 1108.4 2029.4"/>
<path class="k" d="M860 2033.6 C861.3 2034 863.9 2035.4 867.8 2036.2 C871.6 2037.1 876.8 2038 883.3 2038.7 C889.8 2039.4 898.8 2039.9 906.6 2040.6 C914.3 2041.3 922.1 2042 929.9 2042.9 C937.6 2043.8 946.7 2045 953.2 2046 C959.6 2047 964.6 2047.9 968.7 2049.1 C972.8 2050.3 975.7 2051.6 978 2053 C980.3 2054.4 981.5 2055.8 982.7 2057.6 C983.8 2059.5 984.4 2060.7 985 2063.9 C985.6 2067 986.2 2072.1 986.6 2076.3 C986.9 2080.4 987.1 2085.3 987.3 2088.7 C987.6 2092.1 988.1 2094.5 988.1 2096.5 C988.1 2098.4 988 2099.3 987.3 2100.3 C986.7 2101.4 985.8 2102 984.2 2102.7 C982.7 2103.3 981.1 2103.7 978 2104.2 C974.9 2104.7 972.3 2104.5 965.6 2105.8 C958.9 2107.1 947.5 2109.7 937.6 2112 C927.8 2114.3 919.6 2116.1 906.6 2119.8 C893.6 2123.4 871.2 2130.1 859.5 2133.7 C847.8 2137.3 844 2139.4 836.2 2141.5 C828.4 2143.6 819.4 2145 812.9 2146.1 C806.4 2147.3 801.3 2148.1 797.4 2148.5 C793.5 2148.9 790.9 2148.5 789.6 2148.5"/>
<path class="k" d="M781.9 2095.7 C784.5 2095.9 792.7 2096.7 797.4 2096.8 C802 2096.8 805.9 2096.7 809.8 2096.1 C813.7 2095.6 815 2094.9 820.7 2093.4 C826.4 2091.9 832.2 2090.1 844 2087.1 C855.7 2084.2 878 2078.3 891.1 2075.5 C904.1 2072.7 911.8 2071.9 922.1 2070.1 C932.5 2068.3 944.9 2066.2 953.2 2064.6 C961.4 2063.1 967 2061.8 971.8 2060.7 C976.6 2059.7 980.2 2058.8 981.9 2058.4"/>
<path class="k" d="M789.6 2150.8 C790.4 2151.2 791.7 2152.9 794.3 2153.1 C796.9 2153.4 799.5 2153.4 805.2 2152.4 C810.8 2151.3 819.4 2149.4 828.4 2146.9 C837.5 2144.5 846.5 2141.5 859.5 2137.6 C872.5 2133.7 891 2127.9 906.6 2123.6 C922.2 2119.4 940.2 2115.1 953.2 2112 C966.1 2108.9 979 2106.2 984.2 2105"/>
<path class="k" d="M458.6 2246.9 C461.5 2247.1 470.3 2248.1 475.7 2247.9 C481.1 2247.7 484.2 2247.4 491.2 2245.8 C498.2 2244.2 500.2 2243.5 517.6 2238.4 C535 2233.3 569.4 2222.8 595.3 2215.3 C621.2 2207.8 648.8 2200.3 672.9 2193.6 C697 2186.9 727 2178.5 740 2175.2 C753 2171.9 742.8 2176 750.8 2174.1 C758.8 2172.2 775.1 2167.7 788.1 2163.9 C801 2160 806.1 2158 828.4 2151.1 C850.8 2144.3 895.9 2130.2 922.1 2122.9 C948.3 2115.6 975.2 2109.9 985.8 2107.3"/>
<path class="k" d="M992 2057.6 C992.1 2056.9 992 2054.5 992.8 2053 C993.5 2051.4 994.2 2049.9 996.6 2048.3 C999.1 2046.8 1001.8 2045.3 1007.5 2043.7 C1013.2 2042 1021.7 2039.9 1030.8 2038.2 C1039.9 2036.5 1051.5 2034.9 1061.9 2033.6 C1072.2 2032.3 1084.1 2031.2 1092.9 2030.5 C1101.7 2029.7 1111 2029.2 1114.7 2028.9"/>
<path class="k" d="M988.1 2101.4 L992 2102"/>
<path class="k" d="M922.1 2023.5 C924.7 2023.3 933 2022.3 937.6 2022.7 C942.3 2023.1 946.2 2024.4 950.1 2025.8 C953.9 2027.2 956.5 2029.8 960.9 2031.2 C965.3 2032.7 971.8 2033.2 976.5 2034.3 C981.1 2035.5 985 2037.5 988.9 2038.2 C992.8 2039 995.9 2038.4 999.8 2039 C1003.6 2039.7 1010.1 2041.6 1012.2 2042.1"/>
<path class="k" d="M944.6 2042.1 C945.8 2041.2 948.9 2038.4 951.6 2036.7 C954.3 2035 957.6 2033.6 960.9 2032 C964.3 2030.5 967.9 2028.5 971.8 2027.4 C975.7 2026.2 980.6 2025.4 984.2 2025 C987.8 2024.6 992 2025 993.5 2025"/>
<path class="k" d="M971 2045.2 C972.2 2044.4 975 2041.7 978 2040.6 C981 2039.4 985.3 2039.5 988.9 2038.2 C992.5 2036.9 995.9 2034.2 999.8 2032.8 C1003.6 2031.4 1008 2030.3 1012.2 2029.7 C1016.3 2029 1022.5 2029 1024.6 2028.9"/>
<path class="k" d="M979.6 2014.9 C980.9 2015.7 984.9 2017.9 987.3 2019.6 C989.8 2021.3 991 2023.7 994.3 2025 C997.7 2026.3 1002.5 2026.6 1007.5 2027.4 C1012.6 2028.1 1019.9 2028.7 1024.6 2029.4 C1029.3 2030 1032.4 2030.3 1035.5 2031.2 C1038.6 2032.1 1041.9 2034.2 1043.2 2034.8"/>
<path class="k" d="M993.5 2025 C994.6 2024.4 997.2 2022.2 999.8 2021.1 C1002.3 2020.1 1006.5 2019.2 1009.1 2018.8 C1011.7 2018.4 1014.2 2018.8 1015.3 2018.8"/>
<path class="k" d="M1024.6 2029.4 C1025.6 2028.7 1028.5 2026.1 1030.8 2025 C1033.1 2023.9 1036.4 2023.1 1038.6 2022.7 C1040.8 2022.3 1043.1 2022.4 1044 2022.4"/>
<path class="k" d="M860 2048.3 C862.1 2049.4 868.5 2052.2 872.4 2054.5 C876.3 2056.9 880.2 2059.8 883.3 2062.3 C886.4 2064.8 889.8 2068.1 891.1 2069.3"/>
<path class="k" d="M1081.3 2037.5 C1084.5 2037.2 1094.9 2035.8 1100.7 2035.9 C1106.5 2036 1111 2037.2 1116.2 2038.2 C1121.4 2039.3 1129.2 2041.5 1131.7 2042.1"/>
<path class="k" d="M1100 1882 C1104.3 1882.1 1120.5 1882 1125.9 1882.3 C1131.3 1882.6 1130.9 1882.9 1132.3 1884.1 C1133.8 1885.3 1134.6 1886.1 1134.4 1889.3 C1134.2 1892.5 1132.5 1896.8 1131.1 1903.5 C1129.6 1910.2 1127.4 1920.8 1125.9 1929.4 C1124.4 1938 1122.9 1946.8 1122 1955.3 C1121 1963.7 1120.5 1976 1120.2 1980.1"/>
<path class="k" d="M1100 1944.9 L1116.8 1948"/>
<path class="k" d="M1102.6 1968.2 C1103 1971.2 1105 1981 1105.2 1986.3 C1105.4 1991.6 1104.1 1997.8 1103.9 2000.1"/>
<path class="k" d="M1134.9 1889.3 C1135.6 1888 1136.9 1883.5 1138.8 1881.5 C1140.8 1879.6 1144.4 1878.4 1146.6 1877.6 C1148.7 1876.9 1144.4 1877.1 1151.8 1877.1 C1159.1 1877.1 1178.9 1877.6 1190.6 1877.6 C1202.2 1877.6 1210.9 1877.3 1221.6 1877.1 C1232.4 1877 1246.2 1877.3 1255.3 1876.9 C1264.3 1876.4 1269.5 1874.9 1276 1874.3 C1282.5 1873.6 1288.9 1873 1294.1 1873 C1299.3 1873 1302.5 1873.4 1307 1874.3 C1311.6 1875.2 1318.9 1877.7 1321.3 1878.4"/>
<path class="k" d="M1134.9 1889.3 C1134.1 1892.5 1131.3 1902 1129.8 1908.7 C1128.3 1915.4 1127 1922.5 1125.9 1929.4 C1124.8 1936.3 1124.2 1942.3 1123.3 1950.1 C1122.4 1957.9 1121.6 1967.4 1120.7 1976 C1119.8 1984.6 1118.9 1993.7 1118.1 2001.9 C1117.3 2010.1 1116.4 2021.3 1116 2025.2"/>
<path class="k" d="M1190.6 1883.3 C1189.1 1886.7 1183.8 1896.7 1181.5 1903.5 C1179.2 1910.3 1177.6 1916.5 1176.9 1924.2 C1176.1 1931.9 1176.9 1945.4 1176.9 1949.6"/>
<path class="k" d="M1127.2 1947.5 C1131.3 1947.5 1143.5 1947.1 1151.8 1947.5 C1160 1947.9 1172.7 1949.7 1176.9 1950.1"/>
<path class="k" d="M1176.9 1950.1 C1179.1 1949.7 1185.3 1948.1 1190.6 1947.5 C1195.9 1947 1203.1 1946.6 1208.7 1946.7 C1214.3 1946.9 1219.3 1947.5 1224.2 1948.3 C1229.2 1949.1 1236.1 1950.9 1238.5 1951.4"/>
<path class="k" d="M1238.5 1951.4 C1243.4 1951.3 1257.2 1950.4 1268.2 1950.9 C1279.2 1951.4 1298.4 1953.9 1304.5 1954.5"/>
<path class="k" d="M1176.9 1950.1 C1175.5 1953.1 1170.4 1962.2 1168.6 1968.2 C1166.8 1974.3 1166 1980.3 1166 1986.3 C1166 1992.4 1167.4 1998.3 1168.6 2004.5 C1169.8 2010.6 1172.5 2020 1173.2 2023.1"/>
<path class="k" d="M1254.5 1878.9 C1252.9 1882.2 1247.3 1891.7 1244.9 1898.3 C1242.6 1905 1241.6 1910.2 1240.5 1919 C1239.4 1927.9 1238.8 1946 1238.5 1951.4"/>
<path class="k" d="M1238.5 1951.4 C1237.2 1954.6 1232.6 1964.1 1230.7 1970.8 C1228.8 1977.5 1227.7 1982.5 1226.8 1991.5 C1225.9 2000.5 1225.7 2019.1 1225.5 2024.6"/>
<path class="k" d="M1321.3 1878.4 C1322.4 1877.9 1324.9 1876 1327.7 1875.1 C1330.5 1874.1 1330.8 1873.4 1338.1 1872.5 C1345.4 1871.5 1360.5 1870 1371.7 1869.4 C1383 1868.7 1397.2 1868.5 1405.4 1868.6 C1413.6 1868.7 1415.7 1870 1420.9 1869.9 C1426.1 1869.7 1427.4 1868.8 1436.4 1867.8 C1445.5 1866.8 1462.3 1864.7 1475.3 1863.9 C1488.2 1863.1 1503.3 1862.9 1514.1 1862.9 C1524.9 1862.9 1533.1 1863 1540 1863.9 C1546.9 1864.9 1551.4 1866.5 1555.5 1868.6 C1559.6 1870.7 1562.3 1873.1 1564.5 1876.3 C1566.8 1879.6 1568.2 1886.1 1568.9 1888"/>
<path class="k" d="M1321.3 1878.4 C1320.8 1880.9 1319.5 1886.8 1318.7 1893.2 C1317.8 1899.5 1317.2 1906.1 1316.1 1916.5 C1315 1926.8 1313.7 1942.3 1312.2 1955.3 C1310.7 1968.2 1308.5 1982.9 1307 1994.1 C1305.5 2005.3 1304.2 2015.7 1303.2 2022.6 C1302.1 2029.5 1300.6 2032.3 1300.6 2035.5 C1300.6 2038.7 1301.6 2040.3 1303.2 2042 C1304.7 2043.6 1308.5 2044.8 1309.6 2045.3"/>
<path class="k" d="M1568.9 1888 C1568.9 1891.4 1568.9 1899.6 1568.4 1908.7 C1567.9 1917.8 1566.9 1930.3 1565.8 1942.3 C1564.8 1954.4 1563.5 1969.1 1562 1981.2 C1560.4 1993.2 1558.4 2005.3 1556.8 2014.8 C1555.2 2024.3 1553.2 2031.6 1552.4 2038.1 C1551.5 2044.6 1551.9 2050 1551.6 2053.6 C1551.3 2057.3 1551.8 2058.8 1550.3 2060.1 C1548.8 2061.4 1543.8 2061.2 1542.5 2061.4"/>
<path class="k" d="M1309.6 2045.3 C1315.7 2045.1 1333.4 2043.9 1345.9 2043.8 C1358.4 2043.7 1369.6 2044 1384.7 2044.6 C1399.8 2045.1 1419.2 2046.1 1436.4 2047.2 C1453.7 2048.2 1475.3 2049.7 1488.2 2051 C1501.1 2052.3 1506.3 2053.4 1514.1 2054.9 C1521.8 2056.4 1529.6 2058.6 1534.8 2060.1 C1540 2061.6 1543.4 2063.3 1545.1 2064"/>
<path class="k" d="M1393 1874.3 C1391.4 1877.9 1385.8 1888.3 1383.4 1895.8 C1380.9 1903.2 1379.1 1911.7 1378.2 1919 C1377.3 1926.4 1377.7 1933.6 1378.2 1939.8 C1378.7 1945.9 1380.8 1953.1 1381.3 1955.8"/>
<path class="k" d="M1316.1 1951.4 C1321.1 1951.1 1337.9 1949.5 1345.9 1949.6 C1353.8 1949.7 1358.1 1951.1 1364 1952.2 C1369.9 1953.2 1378.4 1955.2 1381.3 1955.8"/>
<path class="k" d="M1381.3 1955.8 C1386.2 1955 1401.4 1951.6 1410.6 1950.9 C1419.7 1950.1 1427.6 1950.4 1436.4 1951.4 C1445.3 1952.3 1459.1 1955.7 1463.6 1956.6"/>
<path class="k" d="M1381.3 1955.8 C1379.9 1959.2 1375.2 1969.2 1373 1976 C1370.9 1982.8 1369.2 1989.8 1368.4 1996.7 C1367.5 2003.6 1367.4 2011 1367.9 2017.4 C1368.3 2023.8 1370.4 2032.1 1371 2035"/>
<path class="k" d="M1477.8 1870.4 C1476.6 1874.6 1472.2 1887.2 1470.1 1895.8 C1468 1904.3 1466.5 1911.5 1465.4 1921.6 C1464.3 1931.8 1463.9 1950.8 1463.6 1956.6"/>
<path class="k" d="M1463.6 1956.6 C1467.7 1955.6 1479.8 1952.1 1488.2 1950.9 C1496.6 1949.7 1506.3 1949.2 1514.1 1949.3 C1521.8 1949.4 1528.3 1950.3 1534.8 1951.4 C1541.3 1952.5 1549.9 1955.1 1552.9 1955.8"/>
<path class="k" d="M1463.6 1956.6 C1463 1961.5 1460.7 1976.6 1459.7 1986.3 C1458.7 1996 1457.9 2005.3 1457.7 2014.8 C1457.4 2024.3 1458.3 2038.5 1458.4 2043.3"/>
<path class="k" d="M1100 2028.3 C1104.3 2028.2 1115.1 2027.5 1125.9 2027.7 C1136.7 2028 1151.8 2028.7 1164.7 2029.8 C1177.6 2030.9 1190.6 2032.6 1203.5 2034.2 C1216.5 2035.8 1231.6 2037.7 1242.3 2039.4 C1253.1 2041.1 1260.9 2043 1268.2 2044.6 C1275.6 2046.2 1281.6 2048.2 1286.3 2049 C1291.1 2049.7 1292.8 2049.5 1296.7 2049.2 C1300.6 2048.9 1307.5 2047.5 1309.6 2047.2"/>
<path class="k" d="M992.8 2058.4 C996.5 2058.2 1006.4 2056.9 1015.3 2056.9 C1024.2 2056.9 1036 2057.6 1046.3 2058.4 C1056.7 2059.2 1064.1 2059.5 1077.4 2061.5 C1090.6 2063.5 1111.3 2067.7 1125.9 2070.4 C1140.4 2073.2 1153.9 2076.5 1164.7 2078.2 C1175.5 2079.9 1184.1 2080.6 1190.6 2080.8 C1197 2081 1200.1 2080.6 1203.5 2079.5 C1207 2078.4 1207.8 2076.1 1211.3 2074.3 C1214.7 2072.6 1222.1 2070 1224.2 2069.2"/>
<path class="k" d="M1199.6 2082.1 C1199 2083.8 1196.3 2087.7 1195.8 2092.4 C1195.2 2097.2 1195.8 2104.5 1196.3 2110.6 C1196.7 2116.6 1197.1 2124.4 1198.3 2128.7 C1199.6 2133 1202.7 2135.1 1203.5 2136.4"/>
<path class="k" d="M992 2057.6 C991.9 2059.7 991.2 2065.4 991.2 2070.1 C991.2 2074.7 991.6 2081.2 992 2085.6 C992.4 2090 992.8 2093.6 993.5 2096.5 C994.3 2099.3 994.8 2101 996.6 2102.7 C998.5 2104.4 998.7 2105.4 1004.4 2106.6 C1010.1 2107.7 1018.6 2108.1 1030.8 2109.7 C1043 2111.2 1061.5 2113.6 1077.4 2115.9 C1093.2 2118.2 1111.3 2120.9 1125.9 2123.5 C1140.4 2126.1 1153.9 2129.8 1164.7 2131.3 C1175.5 2132.8 1184.8 2132.6 1190.6 2132.6 C1196.4 2132.5 1198.1 2131 1199.6 2130.7"/>
<path class="k" d="M995.1 2105.8 C995.9 2106.3 996.4 2107.7 999.8 2108.9 C1003.1 2110 1004.9 2111 1015.3 2112.8 C1025.6 2114.6 1039.1 2116.2 1061.9 2119.8 C1084.6 2123.3 1130.3 2130.6 1151.8 2133.9 C1173.2 2137.1 1181.7 2138.4 1190.6 2139 C1199.4 2139.7 1202.4 2137.9 1204.8 2137.7"/>
<path class="k" d="M1100 2058.8 C1101.7 2057.1 1106.9 2051 1110.4 2048.4 C1113.8 2045.9 1116.9 2044.3 1120.7 2043.3 C1124.5 2042.2 1131.1 2042.2 1133.1 2042"/>
<path class="k" d="M1133.1 2042 C1134.1 2040.9 1136.6 2037.2 1138.8 2035.5 C1141.1 2033.8 1145.3 2032.3 1146.6 2031.6"/>
<path class="k" d="M1133.1 2042 C1136.2 2041.8 1146.1 2040.6 1151.8 2040.7 C1157.5 2040.8 1162.5 2041.9 1167.3 2042.8 C1172 2043.6 1178.1 2045.3 1180.2 2045.9"/>
<path class="k" d="M1180.2 2045.9 C1181.5 2044.6 1184.5 2039.9 1188 2038.1 C1191.4 2036.2 1198.8 2035.3 1200.9 2034.7"/>
<path class="k" d="M1180.2 2045.9 C1184.1 2045.9 1196.6 2045 1203.5 2045.9 C1210.4 2046.7 1215.9 2049.1 1221.6 2051 C1227.4 2053 1235.2 2056.4 1237.9 2057.5"/>
<path class="k" d="M1146.6 2067.3 C1147.9 2065.5 1150.9 2059.4 1154.3 2056.2 C1157.8 2053.1 1163 2050.2 1167.3 2048.4 C1171.6 2046.7 1178.1 2046.3 1180.2 2045.9"/>
<path class="k" d="M1203.5 2086 C1204 2084.9 1204 2081.7 1206.1 2079.5 C1208.3 2077.3 1211.7 2075 1216.5 2073 C1221.2 2071.1 1228.1 2069.6 1234.6 2067.9 C1241 2066.1 1247.5 2064.6 1255.3 2062.7 C1263 2060.7 1272.5 2058.4 1281.2 2056.2 C1289.8 2054.1 1298.4 2051.5 1307 2049.7 C1315.7 2048 1324.3 2046.7 1332.9 2045.9 C1341.5 2045 1354.5 2044.8 1358.8 2044.6"/>
<path class="k" d="M1203.5 2086 C1207.8 2086.5 1216.5 2088.3 1229.4 2089.3 C1242.3 2090.4 1263.9 2091.3 1281.2 2092.4 C1298.4 2093.6 1315.7 2095 1332.9 2096.3 C1350.2 2097.6 1367.4 2098.7 1384.7 2100.2 C1401.9 2101.7 1422.6 2104 1436.4 2105.4 C1450.2 2106.8 1459.7 2108.2 1467.5 2108.7 C1475.3 2109.3 1477.8 2108.9 1483 2108.5 C1488.2 2108.1 1496 2106.5 1498.6 2106.2"/>
<path class="k" d="M1203.5 2086 C1203.2 2089.2 1201.8 2098.7 1201.7 2105.4 C1201.6 2112.1 1202 2120.9 1202.7 2126.1 C1203.5 2131.3 1204.7 2134.1 1206.1 2136.4 C1207.5 2138.8 1207.4 2139.2 1211.3 2140.3 C1215.2 2141.4 1217.8 2141.4 1229.4 2142.9 C1241 2144.4 1259.6 2146.4 1281.2 2149.4 C1302.7 2152.4 1332.9 2157.4 1358.8 2161 C1384.7 2164.7 1417 2168.8 1436.4 2171.4 C1455.8 2174 1465.8 2175.7 1475.3 2176.6 C1484.7 2177.4 1489.3 2176.9 1493.4 2176.6 C1497.5 2176.3 1498.8 2175 1499.8 2174.7"/>
<path class="k" d="M1349.7 2046.6 C1347.8 2047.6 1341.8 2050.1 1338.1 2052.3 C1334.4 2054.6 1329.9 2058.5 1327.7 2060.1 C1325.6 2061.7 1325.6 2061.6 1325.2 2061.9"/>
<path class="k" d="M1239.8 2064 C1244.5 2063.5 1259.2 2061.5 1268.2 2060.9 C1277.3 2060.2 1284.6 2059.9 1294.1 2060.1 C1303.6 2060.3 1320 2061.6 1325.2 2061.9"/>
<path class="k" d="M1325.2 2061.9 C1330.8 2061.4 1348.9 2059.1 1358.8 2058.8 C1368.7 2058.5 1376.1 2059 1384.7 2060.1 C1393.3 2061.2 1402.8 2063.5 1410.6 2065.3 C1418.3 2067 1427.8 2069.6 1431.3 2070.4"/>
<path class="k" d="M1325.2 2061.9 C1323.4 2063.5 1317.8 2068.4 1314.8 2071.7 C1311.8 2075.1 1308.9 2078.9 1307 2082.1 C1305.2 2085.3 1304.5 2089.6 1303.9 2091.1"/>
<path class="k" d="M1450.7 2050.5 C1448.7 2051.5 1442 2054 1439 2056.2 C1436 2058.5 1433.9 2061.6 1432.6 2064 C1431.3 2066.3 1431.5 2069.4 1431.3 2070.4"/>
<path class="k" d="M1431.3 2070.4 C1436.4 2070.2 1452.8 2068.7 1462.3 2069.2 C1471.8 2069.6 1480.1 2071.6 1488.2 2073 C1496.3 2074.5 1507 2076.9 1510.7 2077.7"/>
<path class="k" d="M1431.3 2070.4 C1429.5 2072 1423.9 2076.5 1420.9 2079.5 C1417.9 2082.5 1415.2 2085.8 1413.1 2088.6 C1411.1 2091.4 1409.5 2095 1408.7 2096.3"/>
<path class="k" d="M1498.6 2106.2 C1499.4 2104.7 1501.1 2100.3 1503.7 2097.6 C1506.3 2094.9 1508.9 2092.7 1514.1 2089.9 C1519.3 2087.1 1529.6 2084.2 1534.8 2080.8 C1540 2077.3 1542.1 2072 1545.1 2069.2 C1548.2 2066.3 1549.9 2065.3 1552.9 2064 C1555.9 2062.7 1561.5 2061.8 1563.3 2061.4"/>
<path class="k" d="M1203 2136.4 C1202.9 2145.1 1202.5 2173.1 1202.5 2188.2 C1202.4 2203.3 1202.1 2219 1202.7 2227 C1203.3 2235 1205.5 2234.6 1206.1 2236.1"/>
<path class="k" d="M995.5 2186.3 L1100 2208.4 L1167.3 2224.4 L1200.9 2228.8"/>
<path class="k" d="M1206.1 2236.1 L1260.5 2246.4 L1358.8 2265.8 L1488.2 2291.7 L1529.6 2300"/>
<path class="k" d="M1167.3 2224.4 L1172.5 2255.5 L1191.1 2260.1 L1203.5 2251.6 L1206.1 2237.4"/>
<path class="k" d="M1196.3 2229.1 L1191.9 2260.1"/>
<path class="k" d="M1219 2240 L1224.2 2270.5 L1245.7 2274.9 L1256.6 2267.1 L1259.9 2246.4"/>
<path class="k" d="M1246.7 2244.6 L1245.7 2274.9"/>
<path class="k" d="M1599.9 1862.1 C1604.1 1862 1616.1 1861.5 1625.1 1861.3 C1634 1861.2 1644.5 1860.9 1653.5 1861.1 C1662.6 1861.2 1672.1 1861.7 1679.4 1862.1 C1686.7 1862.5 1692.3 1863.3 1697.5 1863.4 C1702.7 1863.5 1704.8 1863.4 1710.5 1862.9 C1716.1 1862.4 1719.1 1861.1 1731.2 1860.3 C1743.2 1859.5 1765.7 1858.9 1782.9 1858.2 C1800.2 1857.5 1820.4 1856.7 1834.7 1856.2 C1848.9 1855.6 1860.1 1855.1 1868.3 1855.1 C1876.5 1855.1 1880 1855.4 1883.9 1856.2 C1887.7 1856.9 1889.2 1857.2 1891.6 1859.5 C1894 1861.8 1896.4 1865.6 1898.1 1869.9 C1899.7 1874.2 1900.8 1879.8 1901.4 1885.4 C1902.1 1891 1902.3 1896.2 1902 1903.5 C1901.6 1910.9 1900.7 1920.8 1899.4 1929.4 C1898.1 1938 1895.9 1947.5 1894.2 1955.3 C1892.5 1963 1890.8 1968.2 1889 1976 C1887.3 1983.7 1885.6 1992.4 1883.9 2001.9 C1882.1 2011.4 1880.4 2023.4 1878.7 2032.9 C1876.9 2042.4 1875.4 2051.5 1873.5 2058.8 C1871.6 2066.1 1868.8 2072.4 1867 2076.9 C1865.3 2081.4 1863.8 2084.5 1863.1 2086"/>
<path class="k" d="M1568.9 1888 C1569.6 1886.3 1571.3 1880.9 1573.3 1877.6 C1575.3 1874.4 1577.8 1871.1 1581.1 1868.6 C1584.3 1866.1 1589.6 1863.7 1592.7 1862.6 C1595.9 1861.6 1598.7 1862.2 1599.9 1862.1"/>
<path class="k" d="M1568.9 1888 C1568.3 1891.4 1566.5 1900.9 1565.5 1908.7 C1564.5 1916.5 1563.8 1924.7 1562.9 1934.6 C1562.1 1944.5 1561.4 1957 1560.4 1968.2 C1559.3 1979.4 1557.8 1991.9 1556.5 2001.9 C1555.2 2011.8 1553.5 2020.8 1552.6 2027.7 C1551.7 2034.6 1551.3 2038.7 1551.3 2043.3 C1551.3 2047.8 1551.5 2052.3 1552.6 2054.9 C1553.7 2057.5 1556.9 2058.2 1557.8 2058.8"/>
<path class="k" d="M1557.8 2058.8 C1560.8 2058.8 1568.5 2058.9 1575.9 2058.8 C1583.2 2058.7 1588.8 2057.7 1601.8 2058 C1614.7 2058.4 1636.3 2059.7 1653.5 2060.9 C1670.8 2062.1 1688 2063.7 1705.3 2065.3 C1722.5 2066.9 1739.8 2068.7 1757 2070.4 C1774.3 2072.2 1795.9 2074.1 1808.8 2075.6 C1821.7 2077.1 1827.3 2078.2 1834.7 2079.5 C1842 2080.8 1848.1 2082.3 1852.8 2083.4 C1857.5 2084.5 1860.1 2084.7 1863.1 2086 C1866.2 2087.3 1868.3 2088.8 1870.9 2091.1 C1873.5 2093.5 1877.4 2098.7 1878.7 2100.2"/>
<path class="k" d="M1886.4 1856.9 C1888.6 1857.5 1895.5 1858.2 1899.4 1860 C1903.3 1861.9 1907.2 1864.4 1909.7 1867.8 C1912.2 1871.2 1913.4 1874.3 1914.4 1880.2 C1915.3 1886.2 1915.3 1895.3 1915.4 1903.5 C1915.5 1911.7 1915.4 1921.6 1914.9 1929.4 C1914.4 1937.2 1913.4 1944.1 1912.3 1950.1 C1911.2 1956.1 1909.5 1960.5 1908.4 1965.6 C1907.4 1970.8 1906.4 1975.6 1905.8 1981.2 C1905.3 1986.8 1905.7 1995 1905.1 1999.3 C1904.4 2003.6 1902.5 2005.7 1902 2007"/>
<path class="k" d="M1902 2007 C1901.1 2007.9 1898.9 2009.2 1896.8 2012.2 C1894.6 2015.2 1890.8 2019.5 1889 2025.2 C1887.3 2030.8 1887.3 2038.5 1886.4 2045.9 C1885.6 2053.2 1884.9 2062.7 1883.9 2069.2 C1882.8 2075.6 1880.7 2079.9 1880 2084.7 C1879.2 2089.4 1879.3 2095.5 1879.2 2097.6"/>
<path class="k" d="M1863.1 2086 C1864.9 2086.3 1870.7 2088.6 1873.5 2087.8 C1876.3 2086.9 1878.9 2082 1880 2080.8"/>
<path class="k" d="M1677.6 1865.5 C1676.4 1869.7 1672.4 1882.1 1670.3 1890.6 C1668.3 1899.1 1666.6 1907.8 1665.2 1916.5 C1663.7 1925.1 1662.5 1935.4 1661.8 1942.3 C1661.1 1949.3 1660.9 1955.7 1660.8 1958.4"/>
<path class="k" d="M1568.1 1955.3 C1573.7 1955 1591 1953.5 1601.8 1953.5 C1612.5 1953.5 1623 1954.4 1632.8 1955.3 C1642.7 1956.1 1656.1 1958.1 1660.8 1958.6"/>
<path class="k" d="M1660.8 1958.6 C1666 1958.2 1682.8 1956.4 1692.3 1956.1 C1701.9 1955.7 1708.7 1955.8 1718.2 1956.6 C1727.7 1957.3 1739.4 1959.2 1749.3 1960.5 C1759.2 1961.7 1773 1963.7 1777.7 1964.3"/>
<path class="k" d="M1660.8 1959.2 C1659.6 1963.7 1655.4 1977.5 1653.5 1986.3 C1651.7 1995.2 1650.4 2004.5 1649.6 2012.2 C1648.9 2020 1649 2025.7 1649.1 2032.9 C1649.2 2040.2 1650.2 2051.9 1650.4 2055.7"/>
<path class="k" d="M1792 1862.6 C1790.7 1867.3 1786.2 1881.6 1784.2 1890.6 C1782.2 1899.6 1780.9 1907.8 1779.8 1916.5 C1778.7 1925.1 1778 1934.4 1777.7 1942.3 C1777.5 1950.3 1778.2 1960.7 1778.3 1964.3"/>
<path class="k" d="M1778.3 1964.3 C1783.4 1963.8 1799.4 1961.6 1808.8 1961 C1818.2 1960.3 1826.1 1960.2 1834.7 1960.5 C1843.3 1960.7 1851.3 1961.4 1860.6 1962.5 C1869.8 1963.6 1885.4 1966.2 1890.3 1966.9"/>
<path class="k" d="M1778.3 1965.6 C1777.1 1970.4 1773.2 1985 1771.3 1994.1 C1769.4 2003.2 1768 2011.4 1766.9 2020 C1765.7 2028.6 1764.8 2038 1764.3 2045.9 C1763.7 2053.8 1763.6 2063.8 1763.5 2067.3"/>
<path class="k" d="M1902 2007 C1903.7 2006.2 1908.4 2003 1912.3 2001.9 C1916.2 2000.7 1920.9 1999.8 1925.3 2000.1 C1929.6 2000.3 1931.7 2000.5 1938.2 2003.2 C1944.7 2005.8 1955.5 2011.6 1964.1 2016.1 C1972.7 2020.6 1981.3 2025.4 1990 2030.3 C1998.6 2035.3 2009.4 2041.8 2015.8 2045.9 C2022.3 2050 2025.5 2052.3 2028.8 2054.9 C2032 2057.5 2033.8 2059.4 2035.2 2061.4 C2036.7 2063.3 2037 2065.7 2037.3 2066.6"/>
<path class="k" d="M1902 2008.3 C1904.6 2010.3 1912.3 2015.9 1917.5 2020 C1922.7 2024.1 1928.7 2028.8 1933 2032.9 C1937.3 2037 1939.9 2040.5 1943.4 2044.6 C1946.8 2048.7 1952 2055.3 1953.7 2057.5"/>
<path class="k" d="M1953.7 2057.5 C1957.6 2057.5 1968.8 2057.1 1977 2057.5 C1985.2 2057.9 1992.8 2058.8 2002.9 2060.1 C2012.9 2061.4 2031.6 2064.4 2037.3 2065.3"/>
<path class="k" d="M1953.7 2057.5 C1952.9 2061.2 1950.6 2068.5 1948.6 2079.5 C1946.5 2090.5 1944 2108.4 1941.3 2123.5 C1938.6 2138.6 1936.2 2150.7 1932.5 2170.1 C1928.8 2189.5 1923.4 2218.3 1919.3 2240 C1915.2 2261.6 1911.1 2284.4 1908.2 2299.9 C1905.2 2315.4 1904.1 2321.1 1901.9 2333 C1899.6 2344.9 1895.8 2365 1894.6 2371.4"/>
<path class="k" d="M2037.3 2066.6 C2037 2068.5 2036.6 2072.8 2035.8 2078 C2035 2083.2 2034.7 2083.8 2032.2 2098 C2029.7 2112.2 2025.1 2140.7 2020.8 2163.5 C2016.5 2186.3 2011.3 2211 2006.6 2234.7 C2001.8 2258.4 1996.3 2285.5 1992.3 2305.9 C1988.3 2326.3 1985 2343.6 1982.4 2357.1 C1979.8 2370.6 1977.5 2382.2 1976.5 2387.2"/>
<path class="k" d="M1878.7 2100.2 C1880 2101.9 1883 2106.9 1886.4 2110.6 C1889.9 2114.2 1895.1 2118.3 1899.4 2122.2 C1903.7 2126.1 1908.9 2129.8 1912.3 2133.9 C1915.8 2137.9 1918.2 2142.7 1920.1 2146.8 C1921.9 2150.9 1923.1 2152.4 1923.4 2158.4 C1923.8 2164.5 1922.9 2174.6 1922.2 2183 C1921.4 2191.4 1919.9 2202 1918.8 2208.9 C1917.7 2215.8 1916.9 2220.8 1915.4 2224.4 C1913.9 2228.1 1912.4 2229.5 1909.7 2230.9 C1907.1 2232.3 1901.1 2232.4 1899.4 2232.7"/>
<path class="k" d="M1498.6 2108 C1503.3 2109 1515.8 2112.8 1527 2114.4 C1538.2 2116.1 1553.7 2117.2 1565.8 2117.8 C1578 2118.4 1589.6 2117.5 1599.9 2118.1 C1610.2 2118.6 1614.4 2119.2 1627.6 2120.9 C1640.9 2122.6 1662.1 2125.7 1679.4 2128.2 C1696.7 2130.7 1713.9 2133.5 1731.2 2135.9 C1748.4 2138.4 1765.7 2140.7 1782.9 2142.9 C1800.2 2145.2 1819.6 2147.5 1834.7 2149.4 C1849.8 2151.2 1862.7 2153.1 1873.5 2154 C1884.3 2155 1891.2 2155.1 1899.4 2155.1 C1907.6 2155.1 1918.8 2154.2 1922.7 2154"/>
<path class="k" d="M1498.6 2108 C1498.2 2112.7 1497.2 2127.4 1496.7 2136.4 C1496.3 2145.5 1495.4 2156.1 1496 2162.3 C1496.5 2168.6 1496.8 2171 1499.8 2174 C1502.9 2176.9 1505.2 2177.8 1514.1 2179.9 C1522.9 2182.1 1538.6 2184.8 1552.9 2186.9 C1567.2 2189 1583.2 2190.5 1599.9 2192.3 C1616.7 2194.2 1636 2195.9 1653.5 2198 C1671.1 2200.1 1688 2202.1 1705.3 2205 C1722.5 2207.9 1739.8 2212.1 1757 2215.4 C1774.3 2218.6 1791.5 2222 1808.8 2224.4 C1826.1 2226.9 1845.5 2228.7 1860.6 2230.1 C1875.7 2231.5 1892.9 2232.3 1899.4 2232.7"/>
<path class="k" d="M1207.4 2141.6 C1208 2142.5 1203.3 2145 1211.3 2146.8 C1219.3 2148.6 1230.7 2149 1255.3 2152.5 C1279.9 2155.9 1320 2162 1358.8 2167.5 C1397.6 2173 1448 2179.7 1488.2 2185.6 C1528.4 2191.5 1576.7 2199.5 1599.9 2203 C1623.2 2206.4 1610.1 2203.7 1627.6 2206.3 C1645.2 2208.9 1679.4 2214.9 1705.3 2218.7 C1731.2 2222.6 1757 2226.5 1782.9 2229.6 C1808.8 2232.7 1839.4 2235.6 1860.6 2237.4 C1881.7 2239.1 1901.5 2239.5 1909.7 2240"/>
<path class="k" d="M1909.7 2234.8 C1910.2 2236.5 1912.5 2237.8 1912.3 2245.1 C1912.1 2252.5 1909.6 2269.6 1908.4 2278.8 C1907.2 2287.9 1906.5 2291.5 1905.1 2299.9 C1903.8 2308.4 1901.8 2320.7 1900.5 2329.5 C1899.1 2338.3 1898.3 2345.8 1897 2352.8 C1895.6 2359.8 1893.1 2368.3 1892.3 2371.4"/>
<path class="k" d="M1654.8 2066 C1653.5 2067.4 1648.9 2071.2 1647 2074.3 C1645.2 2077.4 1644.3 2082.1 1643.7 2084.7 C1643 2087.3 1643.3 2089 1643.2 2089.9"/>
<path class="k" d="M1536.1 2080.8 C1541 2080.5 1555.2 2078.9 1565.8 2079 C1576.5 2079.1 1589.6 2080.2 1599.9 2081.6 C1610.2 2083 1620.9 2085.8 1627.6 2087.3 C1634.4 2088.7 1638.4 2089.9 1640.6 2090.4"/>
<path class="k" d="M1640.6 2090.4 C1644.9 2090.1 1655.7 2088.6 1666.5 2088.6 C1677.2 2088.5 1693.6 2088.9 1705.3 2089.9 C1716.9 2090.8 1726.4 2092.8 1736.3 2094.5 C1746.3 2096.2 1760.1 2099.3 1764.8 2100.2"/>
<path class="k" d="M1640.6 2091.1 C1639.1 2092.7 1633.7 2097 1631.5 2100.2 C1629.4 2103.4 1628.4 2107.6 1627.6 2110.6 C1626.9 2113.5 1627 2116.6 1626.9 2117.8"/>
<path class="k" d="M1764.8 2075.6 C1764.5 2077.1 1762.9 2081.4 1762.7 2084.7 C1762.5 2087.9 1762.9 2092.4 1763.5 2095 C1764.1 2097.6 1765.7 2099.3 1766.1 2100.2"/>
<path class="k" d="M1766.1 2100.7 C1771.1 2100.6 1784.4 2099.5 1795.9 2100.2 C1807.3 2100.9 1823.9 2103.2 1834.7 2104.9 C1845.5 2106.5 1852.9 2108.4 1860.6 2110 C1868.2 2111.6 1877.4 2113.7 1880.7 2114.4"/>
<path class="k" d="M1764.8 2101.5 C1764.2 2103.9 1761.8 2111.6 1760.9 2115.7 C1760.1 2119.8 1759.7 2123.1 1759.6 2126.1 C1759.5 2129.1 1760.3 2132.6 1760.4 2133.9"/>
<path class="k" d="M1891.1 2371.4 L1902.8 2372.6 L1926.1 2378.4 L1949.4 2383.1 L1976.2 2387.3"/>
<path class="k" d="M1891.1 2371.4 L1892.3 2415.7 L1941.2 2427.3 L1956.4 2384.2"/>
<path class="k" d="M1529.6 2300 L1600 2314.4 L1891.2 2384.2"/>
<path class="k" d="M229.2 2286.6 L245.5 2295 L271.1 2314.4 L292.1 2328.3 L336.3 2357.5 L382.9 2387.7 L394.6 2397 L398.1 2401.7 L400.4 2407.5 L408.5 2406.4"/>
<path class="k" d="M394.6 2299.9 C395.7 2306.8 399.8 2329.2 401.6 2341.1 C403.3 2353.1 403.9 2360.6 405 2371.4 C406.2 2382.3 408 2400.5 408.5 2406.4"/>
<path class="k" d="M463 2299.9 C463.7 2304.9 465.4 2319.5 466.8 2329.5 C468.2 2339.5 470.3 2351 471.4 2359.8 C472.6 2368.5 473.4 2378.2 473.8 2381.9"/>
<path class="k" d="M408.5 2406.4 L441.1 2394.7 L466.8 2385.4 L473.8 2382.6 L477.3 2381.2"/>
<path class="k" d="M477.3 2381.2 L522.7 2364.4 L600 2334.6"/>
<path class="k" d="M600 2334.6 L691.9 2300"/>
<path class="k" d="M400.4 2407.5 L405 2434.3 L424.4 2448.3 L467.9 2425 L466.8 2385.4"/>
<path class="k" d="M419.7 2404 L424.4 2448.3"/>
<path class="k" d="M245.5 2295.7 L259.5 2328.3 L273.4 2335.3 L290.9 2328.3"/>
<path class="k" d="M272.7 2315.5 L273.4 2335.3"/>
<path class="k" d="M760.1 414.7 C758.5 413.9 753.1 412.3 750.6 409.6 C748 406.8 745.6 402.4 744.9 398.4 C744.1 394.4 744.6 390.8 746.2 385.5 C747.8 380.2 750.1 376.7 754.5 366.6 C758.9 356.5 766.5 339 772.6 324.7 C778.6 310.4 785.3 293.6 790.7 280.7 C796.1 267.7 801.3 255.2 804.9 247 C808.6 238.8 809.7 235.7 812.7 231.5 C815.7 227.3 817.4 224.9 823 221.7 C828.6 218.5 835.8 214.2 846.3 212.4 C856.9 210.5 869.2 211.4 886.4 210.8 C903.7 210.2 936 208.6 949.8 208.7 C963.6 208.9 963.2 211 969.3 211.8 C975.3 212.7 978.7 214.4 986.1 213.7 C993.4 212.9 1002.6 208.9 1013.3 207.2 C1023.9 205.5 1043.9 204.2 1050 203.6"/>
<path class="k" d="M760.1 414.7 C759.2 413.7 755.8 411.5 754.5 408.8 C753.1 406.1 751.9 402.8 751.9 398.4 C751.9 394.1 751.4 392.2 754.5 382.9 C757.5 373.6 763.5 359 770 342.8 C776.4 326.6 786.8 302 793.3 285.9 C799.7 269.7 804.9 255 808.8 245.7 C812.7 236.5 815.3 232.8 816.6 230.2"/>
<path class="k" d="M583.1 515.4 C582.1 514.7 578.5 513.3 577.2 511.3 C575.8 509.3 575.3 507.4 575.1 503.5 C574.9 499.6 575.5 493.6 575.9 488 C576.2 482.4 576.3 475.5 577.2 469.9 C578 464.2 579.1 458.1 581.1 454.1 C583 450 585.4 448 588.8 445.5 C592.3 443.1 592.3 441.9 601.8 439.3 C611.2 436.7 626.8 433.9 645.8 430 C664.7 426.1 701.4 418.4 715.6 415.8 C729.9 413.2 723.7 414.7 731.2 414.5 C738.6 414.3 747.2 414.4 760.1 414.5 C773.1 414.6 796.4 414.8 808.8 415.3 C821.2 415.7 824 416.2 834.7 417.1 C845.4 418 855.7 418.3 873 420.7 C890.2 423.1 918.7 427.6 938.2 431.3 C957.7 435 979.7 440.4 990 443 C1000.3 445.5 993.2 444.6 1000 446.6 C1006.8 448.6 1022.4 452.4 1031.1 454.9 C1039.7 457.3 1045 459.1 1051.8 461.1 C1058.5 463 1068.2 465.7 1071.4 466.7"/>
<path class="k" d="M583.6 455.4 C591 456.5 611.7 459.3 627.6 461.8 C643.6 464.4 663.4 468.3 679.4 470.9 C695.4 473.5 710.5 475 723.4 477.4 C736.3 479.7 747.1 482.5 757 485.1 C767 487.7 774.3 490.5 782.9 492.9 C791.5 495.3 801.9 497.9 808.8 499.4 C815.7 500.9 818.7 501.6 824.3 502 C829.9 502.3 836.4 502.1 842.4 501.4 C848.5 500.8 848.9 500.1 860.6 498.1 C872.2 496 890.8 492.5 912.3 489 C933.9 485.6 967 480.8 990 477.4 C1012.9 473.9 1040 469.8 1050 468.3"/>
<path class="k" d="M1110.6 225.8 C1111.2 224.2 1112.7 218.8 1114.7 216 C1116.7 213.1 1119.4 210.6 1122.5 208.7 C1125.5 206.9 1125.5 206.1 1132.8 204.9 C1140.1 203.6 1150.1 202.6 1166.5 201.5 C1182.9 200.4 1207.4 199 1231.2 198.4 C1254.9 197.7 1282.9 197.9 1308.8 197.6 C1334.7 197.3 1369.2 196.8 1386.4 196.8 C1403.7 196.8 1403.7 197 1412.3 197.6 C1420.9 198.3 1431 199.8 1438.2 200.7 C1445.4 201.6 1452.4 202.7 1455.3 203"/>
<path class="k" d="M1228.6 208.7 C1226.4 212.1 1219.5 221.7 1215.6 228.9 C1211.7 236.2 1208.1 244 1205.3 252.2 C1202.5 260.4 1200.3 269.5 1198.8 278.1 C1197.3 286.7 1196.4 295.3 1196.2 304 C1196.1 312.7 1197.7 326 1198 330.4"/>
<path class="k" d="M1102.5 316.9 C1106.7 316.8 1119.1 316 1127.6 316.4 C1136.1 316.8 1144.9 318.1 1153.5 319.5 C1162.1 320.9 1172 322.7 1179.4 324.7 C1186.8 326.6 1194.9 330.1 1198 331.1"/>
<path class="k" d="M1198 331.1 C1202.7 330.3 1216.1 327.2 1226 326 C1235.8 324.8 1247.6 324.1 1257 323.9 C1266.5 323.7 1274.3 323.7 1282.9 324.7 C1291.5 325.7 1298 327.1 1308.8 329.9 C1319.6 332.7 1341.1 339.6 1347.6 341.5"/>
<path class="k" d="M1198 331.1 C1195.4 334.4 1186.6 343.4 1182 350.6 C1177.4 357.7 1173.4 366.1 1170.3 373.9 C1167.3 381.6 1165.4 389.4 1163.9 397.1 C1162.4 404.9 1161.4 411.8 1161.3 420.4 C1161.2 429.1 1162.8 444.2 1163.1 448.9"/>
<path class="k" d="M1388.3 209.5 C1385.8 214.5 1378.1 228.7 1373.5 239.3 C1368.9 249.8 1364 262.1 1360.6 272.9 C1357.1 283.7 1354.9 292.5 1352.8 304 C1350.7 315.4 1348.9 335.2 1348.1 341.5"/>
<path class="k" d="M1348.1 341.5 C1354.5 340.6 1373.6 337.2 1386.4 336.3 C1399.3 335.5 1412.3 335.7 1425.3 336.3 C1438.2 337 1453.3 338.7 1464.1 340.2 C1474.9 341.7 1481.1 343.1 1490 345.4 C1498.8 347.7 1512.6 352.5 1517.1 353.9"/>
<path class="k" d="M1347.6 342.8 C1345 346.7 1336.8 357.5 1332.1 366.1 C1327.3 374.7 1322.8 385.1 1319.2 394.6 C1315.5 404 1312.5 414 1310.1 423 C1307.7 432.1 1306 442.3 1304.9 448.9 C1303.8 455.5 1303.8 460.1 1303.6 462.4"/>
<path class="k" d="M1110.6 225.8 C1110.2 227.7 1109.7 232.3 1108.2 237.2 C1106.8 242.1 1103.8 248.5 1101.8 255.3 C1099.7 262.1 1097.3 271.3 1095.8 278.1 C1094.3 284.9 1093.9 290.1 1092.7 296.2 C1091.5 302.3 1090.5 307.9 1088.8 314.8 C1087.1 321.7 1084.3 331.6 1082.3 337.6 C1080.4 343.7 1079.5 345.8 1077.2 351.1 C1074.8 356.3 1070.9 362.9 1068.1 369.2 C1065.3 375.4 1062.5 381.7 1060.4 388.6 C1058.2 395.5 1056.4 405.3 1055.2 410.6 C1053.9 416 1053.9 415.6 1052.8 420.7 C1051.7 425.8 1049.5 436.4 1048.7 441.4 C1047.8 446.4 1047.4 448.1 1047.6 450.7 C1047.8 453.3 1048.3 455.4 1049.7 456.9 C1051.1 458.5 1052.1 459.4 1055.9 460 C1059.7 460.7 1064.5 460.9 1072.5 461.1 C1080.4 461.2 1091.4 460.9 1103.5 461.1 C1115.6 461.2 1132.9 461.4 1144.9 462.1 C1157 462.8 1165.6 463.7 1176 465.2 C1186.3 466.8 1195 468.8 1207 471.4 C1219.1 474 1234.6 477.8 1248.4 480.7 C1262.2 483.7 1275.2 486.6 1289.9 489 C1304.5 491.4 1328.7 494.2 1336.4 495.2"/>
<path class="k" d="M1000 477 C1003.5 476.3 1012.1 474.6 1020.7 472.9 C1029.3 471.2 1041.4 468.1 1051.8 466.7 C1062.1 465.2 1072.5 464.5 1082.8 464.2 C1093.2 463.8 1103.5 464.1 1113.9 464.6 C1124.2 465.1 1132.9 465.8 1144.9 467.3 C1157 468.8 1172.5 471.1 1186.3 473.5 C1200.1 475.9 1213.9 479 1227.7 481.8 C1241.5 484.5 1255.3 487.3 1269.2 490.1 C1283 492.8 1299.5 496.3 1310.6 498.3 C1321.6 500.4 1331.3 501.8 1335.4 502.5"/>
<path class="k" d="M1045.5 472.5 C1050 472.6 1062.5 472.1 1072.5 473.5 C1082.5 474.9 1093.5 478.2 1105.6 480.7 C1117.7 483.3 1132.2 485.5 1144.9 489 C1157.7 492.5 1176 499.7 1182.2 501.9"/>
<path class="k" d="M1141.8 472.9 C1138.9 473.3 1130.3 474.3 1124.2 475.6 C1118.2 476.9 1112.5 479.2 1105.6 480.7 C1098.7 482.3 1091.6 482.3 1082.8 484.9 C1074 487.5 1057.8 494.4 1052.8 496.3"/>
<path class="k" d="M1000 484.9 C1003.5 485.4 1011.9 486 1020.7 488 C1029.5 490 1047.4 495.4 1052.8 496.9"/>
<path class="k" d="M1052.8 496.9 C1057.8 497 1072.6 496.2 1082.8 497.3 C1093 498.4 1102.1 500.5 1113.9 503.5 C1125.6 506.6 1146.7 513.5 1153.2 515.5"/>
<path class="k" d="M1052.8 496.9 C1049.2 497.3 1037.8 497.2 1031.1 499.4 C1024.3 501.5 1017.6 505.9 1012.4 509.7 C1007.2 513.5 1002.1 520.1 1000 522.2"/>
<path class="k" d="M1219.5 487.4 C1216.7 488 1209.1 488.7 1202.9 491.1 C1196.7 493.5 1190.5 497.8 1182.2 501.9 C1173.9 505.9 1162.9 511.5 1153.2 515.5 C1143.5 519.6 1133.1 522.1 1124.2 526.3 C1115.4 530.5 1104 538.4 1100 540.8"/>
<path class="k" d="M1182.2 501.9 C1188.1 502.3 1204.6 502.6 1217.4 504.6 C1230.2 506.6 1245.2 509.8 1258.8 513.9 C1272.4 517.9 1292.4 526.5 1299.2 529"/>
<path class="k" d="M1153.2 516.4 C1158.7 516.8 1173.9 517 1186.3 519 C1198.8 521 1213 524.2 1227.7 528.4 C1242.5 532.5 1267.1 541.3 1274.9 543.9"/>
<path class="k" d="M1000 531.9 C1005.2 532.9 1017.3 535 1031.1 537.7 C1044.9 540.4 1063.8 543.4 1082.8 548 C1101.8 552.7 1127.7 560.6 1144.9 565.6 C1162.2 570.7 1172.5 574.5 1186.3 578.5 C1200.1 582.4 1213.9 586.6 1227.7 589.4 C1241.5 592.3 1256.4 593.9 1269.2 595.7 C1281.9 597.4 1297.1 599.3 1304.3 599.8 C1311.6 600.3 1310 599.4 1312.6 598.8 C1315.2 598.1 1318.7 596.2 1319.9 595.7"/>
<path class="k" d="M1000 614.3 C1010.4 617.6 1038 626.2 1062.1 634 C1086.3 641.7 1120.8 653.5 1144.9 660.9 C1169.1 668.3 1189.8 673.8 1207 678.5 C1224.3 683.1 1237.4 685.6 1248.4 688.8 C1259.5 692 1266.7 695.7 1273.3 697.7 C1279.8 699.8 1283 700.8 1287.8 701.2 C1292.6 701.7 1299.9 700.4 1302.3 700.2"/>
<path class="k" d="M1000 626.3 C1010.4 629.6 1038 638.5 1062.1 646.4 C1086.3 654.2 1120.8 665.7 1144.9 673.3 C1169.1 680.9 1189.8 686.8 1207 691.9 C1224.3 697 1238.1 701.3 1248.4 703.9 C1258.8 706.5 1262.2 707.1 1269.2 707.5 C1276.1 707.8 1284.5 706.9 1289.9 706 C1295.2 705.1 1299.3 702.9 1301.2 702.3"/>
<path class="k" d="M1000 634 C1010.4 637.2 1038 646 1062.1 653.6 C1086.3 661.2 1120.8 672.1 1144.9 679.5 C1169.1 686.9 1189.8 693.1 1207 698.1 C1224.3 703.1 1237.8 706.9 1248.4 709.5 C1259.1 712.1 1265 713.3 1271.2 713.7 C1277.4 714 1281.9 711.8 1285.7 711.6 C1289.5 711.4 1291.9 711.8 1294 712.6 C1296.1 713.5 1297.3 715 1298.1 716.8 C1299 718.5 1299 721.9 1299.2 723"/>
<path class="k" d="M1400 453.8 C1397.2 454.7 1389 457.5 1383 459 C1377.1 460.6 1370.3 461.1 1364.4 463.1 C1358.5 465.2 1351.6 468.8 1347.8 471.4 C1344 474 1343.2 476.1 1341.6 478.7 C1340.1 481.3 1339.5 482.8 1338.5 487 C1337.5 491.1 1337 493.9 1335.4 503.5 C1333.9 513.2 1331.8 529.4 1329.2 544.9 C1326.6 560.5 1323 579.4 1319.9 596.7 C1316.8 613.9 1313.5 631.2 1310.6 648.4 C1307.6 665.7 1304.3 686.4 1302.3 700.2 C1300.2 714 1299.7 719.9 1298.1 731.3 C1296.6 742.7 1294.7 757.1 1293 768.5 C1291.2 780 1288.6 794.8 1287.8 800"/>
<path class="k" d="M873 420.4 C883.9 421.8 918.7 425.3 938.2 428.5 C957.7 431.6 979.7 436.8 990 439.3 C1000.3 441.9 994.9 442.2 1000 443.9 C1005.1 445.6 1015.2 448.4 1020.7 449.7 C1026.2 451 1030.2 451.8 1033.1 451.8 C1036.1 451.8 1036.9 450.9 1038.3 449.7 C1039.7 448.5 1040.5 447.3 1041.4 444.5 C1042.3 441.8 1042.6 437.8 1043.5 433.1 C1044.3 428.5 1043.8 426.4 1046.6 416.6 C1049.4 406.7 1056.3 388.1 1060.4 373.9 C1064.4 359.6 1067.7 343.4 1070.7 331.1 C1073.7 318.9 1075.9 309.6 1078.5 300.1 C1081.1 290.6 1083.4 282.4 1086.2 274.2 C1089 266 1092.2 257.5 1095.3 250.9 C1098.4 244.3 1102.4 238.8 1104.9 234.6 C1107.3 230.4 1109.6 228.5 1110 225.8 C1110.5 223.1 1109.7 221.3 1107.5 218.6 C1105.2 215.9 1101 211.8 1096.6 209.5 C1092.2 207.2 1088.8 205.8 1081.1 204.9 C1073.3 203.9 1055.2 203.8 1050 203.6"/>
<path class="k" d="M583.1 515.4 C588.4 516.2 599.5 517.6 614.7 520.3 C629.9 523.1 657 527.9 674.2 532 C691.5 536.1 704.4 540.6 718.2 544.9 C732 549.2 744.1 554 757 557.9 C770 561.7 785.1 565.8 795.9 568.2 C806.6 570.6 813.8 570.8 821.7 572.1 C829.7 573.4 840.1 575.3 843.7 576"/>
<path class="k" d="M575.9 510 C576.4 511.2 570.4 513.7 579 517 C587.6 520.2 610.9 525.4 627.6 529.4 C644.4 533.4 657.8 535 679.4 541 C701 547.1 735.5 559.2 757 565.6 C778.6 572.1 795.9 576.8 808.8 579.9 C821.7 582.9 828.6 583.7 834.7 583.7 C840.7 583.7 843.3 580.5 845 579.9"/>
<path class="k" d="M579.2 523.7 C591.6 526.7 623.9 534 653.5 541.8 C683.2 549.7 722.5 561.3 757 570.8 C791.5 580.3 830.4 590.8 860.6 598.8 C890.8 606.7 914.9 612.8 938.2 618.7 C961.4 624.6 989.7 631.4 1000.1 634"/>
<path class="k" d="M575.1 506.1 L574.6 628.3"/>
<path class="k" d="M579 521.6 L577.4 629.3"/>
<path class="k" d="M574.6 628.3 L583.6 632.1 L637.3 653.4 L1272.7 894.7"/>
<path class="k" d="M583.6 632.1 L586.2 670.4 L616 683.9 L634.1 679 L638.8 655.4"/>
<path class="k" d="M617.8 646.4 L616 683.9"/>
<path class="k" d="M853.3 500.4 C852.9 501.3 851.9 503.3 851 505.6 C850 507.8 848.8 509 847.6 513.9 C846.4 518.7 844.6 527.7 843.7 534.6 C842.9 541.5 842.2 548.4 842.4 555.3 C842.7 562.2 843.5 571 845 576 C846.5 580.9 848.1 582.7 851.5 585 C855 587.4 857.8 588.7 865.7 590.2 C873.7 591.7 887.3 592.4 899.4 594.1 C911.5 595.8 921.4 597.2 938.2 600.6 C955 603.9 989.7 612 1000.1 614.3"/>
<path class="k" d="M847.6 578.6 C848.5 580.1 848.5 585 852.8 587.6 C857.1 590.2 859.3 590.4 873.5 594.1 C887.7 597.8 917.1 604.3 938.2 609.6 C959.3 615 989.7 623.4 1000.1 626.2"/>
<path class="k" d="M851.8 504.8 C852.6 505.7 853.1 508.6 856.7 510 C860.3 511.4 864.2 512.1 873.5 513.4 C882.8 514.6 897.2 515.6 912.3 517.8 C927.4 519.9 949.5 523.7 964.1 526 C978.7 528.4 994.1 531 1000.1 532"/>
<path class="k" d="M1432.8 200.1 C1436.3 200.7 1448 202.8 1453.5 203.4 C1459 204 1459 204.4 1465.9 203.8 C1472.8 203.3 1483.9 201.1 1494.9 200.1 C1506 199.1 1522.9 198.2 1532.2 198 C1541.5 197.9 1546 198.4 1550.8 199.3 C1555.7 200.2 1558.4 201.6 1561.2 203.4 C1563.9 205.2 1565.9 207.2 1567.4 210 C1568.8 212.9 1569.5 216.6 1569.9 220.4 C1570.2 224.2 1570.2 226.6 1569.5 232.8 C1568.7 239 1567.4 247.3 1565.3 257.7 C1563.3 268 1560.1 281.8 1557 294.9 C1553.9 308 1550.1 323.6 1546.7 336.3 C1543.2 349.1 1539.8 360.8 1536.3 371.5 C1532.9 382.2 1529.8 391.7 1526 400.5 C1522.2 409.3 1515.6 420.4 1513.6 424.3"/>
<path class="k" d="M1557 199.7 C1558.4 200.3 1562.2 201.3 1565.3 203.4 C1568.4 205.5 1572.6 208.9 1575.7 212.1 C1578.8 215.3 1581.5 219 1584 222.5 C1586.4 225.9 1588.4 229.9 1590.2 232.8 C1592 235.7 1594 238.9 1594.7 240.1"/>
<path class="k" d="M1594.7 240.1 C1593.6 243.7 1590.9 252 1588.1 261.8 C1585.3 271.6 1580.8 287.3 1577.7 299.1 C1574.6 310.8 1572.2 321.8 1569.5 332.2 C1566.7 342.5 1563.9 352.6 1561.2 361.2 C1558.4 369.8 1555.7 376.7 1552.9 384 C1550.1 391.2 1546.9 398.8 1544.6 404.7 C1542.4 410.5 1540.3 416.7 1539.4 419.2"/>
<path class="k" d="M1578.8 297.4 C1579.6 297.9 1582.7 298.4 1584 300.1 C1585.2 301.8 1586.3 303 1586.4 307.3 C1586.6 311.7 1585.7 317.7 1585 326 C1584.2 334.3 1582.9 346.7 1581.9 357 C1580.8 367.4 1579.7 378.8 1578.8 388.1 C1577.8 397.4 1576.5 408.8 1576.1 412.9"/>
<path class="k" d="M1362.4 463.7 C1365.5 463 1369.3 463.2 1381.1 459.9 C1392.8 456.7 1410.7 449.9 1432.8 444 C1454.9 438.1 1495.8 428.5 1513.6 424.3 C1531.3 420.2 1529 421 1539.4 419.2 C1549.9 417.3 1566.3 415.1 1576.1 412.9 C1585.9 410.8 1594.7 407.4 1598.4 406.3"/>
<path class="k" d="M1598.4 406.3 C1603.3 406.7 1617.1 406.8 1627.4 408.4 C1637.8 410 1652.6 414.1 1660.6 416 C1668.5 418 1671.6 419 1675.1 420.2 C1678.5 421.4 1679.4 421 1681.3 423.3 C1683.2 425.5 1685.4 429.8 1686.4 433.6 C1687.5 437.4 1687.6 441.6 1687.5 446.1 C1687.3 450.6 1686.8 453 1685.4 460.6 C1684 468.2 1681.6 481.3 1679.2 491.6 C1676.8 502 1675.6 505.3 1670.9 522.7 C1666.2 540 1657.5 571.5 1651.1 595.8 C1644.8 620 1640.1 640.2 1633 668.2 C1625.9 696.3 1612.5 748 1608.4 764"/>
<path class="k" d="M1679.2 421.6 C1665.7 425.2 1625.7 435.6 1598.4 443 C1571.2 450.3 1539.8 459 1515.6 465.7 C1491.5 472.5 1463.9 480.4 1453.5 483.3"/>
<path class="k" d="M1453.5 483.3 C1451.4 485.2 1444 491.3 1441.1 494.7 C1438.2 498.2 1437.6 498.7 1435.9 504 C1434.2 509.4 1431.5 524 1430.7 526.8 C1430 529.6 1432.8 513.5 1431.2 520.7 C1429.5 527.9 1423.8 553.9 1420.8 569.9 C1417.8 585.8 1416.1 597.9 1413 616.5 C1410 635 1406.6 657.4 1402.7 681.2 C1398.8 704.9 1393.6 735.1 1389.8 758.8 C1385.9 782.5 1382.4 804.1 1379.4 823.5 C1376.4 842.9 1374 858 1371.6 875.3 C1369.3 892.5 1366.2 918.4 1365.2 927"/>
<path class="k" d="M1287.8 799.9 C1286.7 807.8 1282.8 834.2 1281.1 846.8 C1279.3 859.3 1278.3 867.7 1277.2 875.3 C1276.1 882.8 1275 889.3 1274.6 892.1"/>
<path class="k" d="M1272 894.4 L1275.1 892.1"/>
<path class="k" d="M1277.2 894.7 C1283.4 897 1302.8 903.9 1314.7 908.9 C1326.6 913.9 1340.1 920.9 1348.3 924.4 C1356.5 928 1360 929.2 1363.9 930.4 C1367.8 931.6 1369.5 931.8 1371.6 931.7 C1373.8 931.5 1375.5 931 1376.8 929.6 C1378.1 928.2 1378.1 925.1 1379.4 923.1 C1380.7 921.2 1382.9 919.5 1384.6 918 C1386.3 916.5 1388.9 914.7 1389.8 914.1"/>
<path class="k" d="M1389.8 914.1 L1524.3 820.9 L1550.2 801.5 L1587.7 775.6 L1608.4 764"/>
<path class="k" d="M1286.2 899.8 L1299.2 958.1 L1350.9 980.8 L1373.7 973.6 L1389.8 915.4"/>
<path class="k" d="M1348.9 925.7 L1350.9 980.8"/>
<path class="k" d="M1524.3 820.9 L1548.9 830.5 L1570.9 829.5 L1587.7 775.6"/>
<path class="k" d="M1550.2 801.5 L1549.4 830.5"/>
</g>
<g class="m">
<path class="m" d="M207.7 1591.9 L948.1 1591.9"/>
<path class="m" d="M1025.8 1591.9 L1894.1 1591.9"/>
<path class="m" d="M2259.9 1897.8 L2259.8 2099.5"/>
<path class="m" d="M2259.8 2155 L2259.7 2389.5"/>
<path class="m" d="M2103.1 2103.9 L2103.1 2210.5"/>
<path class="m" d="M2103.1 2256 L2103.1 2387.9"/>
<path class="m" d="M943.3 236.8 L925.8 282.4"/>
<path class="m" d="M899.2 351.9 L882.1 396.5"/>
<path class="m" d="M849.9 89.2 L1568.7 89.2"/>
<path class="m" d="M2000.5 236.8 L2000.3 423.5"/>
<path class="m" d="M1998.3 479.3 L1998.1 792"/>
<path class="m" d="M1853.1 319 L1853.1 527.9"/>
<path class="m" d="M1853.1 576.4 L1853.1 804.8"/>
<path class="m" d="M1710.2 635.6 L1710.2 687.3"/>
<path class="m" d="M1710.2 748.8 L1710.2 793.2"/>
<path class="m" d="M1260.6 918 L1260.6 948"/>
<path class="m" d="M653.9 1085.7 L1261 1085.7"/>
<path class="m" d="M1398.6 1085.7 L1525 1085.7"/>
<path class="m" d="M613.2 1239.4 L1311.9 1239.4"/>
<path class="m" d="M1389.8 1239.4 L1572 1239.4"/>
</g>
<g fill="#000">
<polygon points="170.1,1591.9 217.1,1583.5 217.1,1600.3"/>
<polygon points="985.7,1591.9 938.7,1600.3 938.7,1583.5"/>
<polygon points="988.2,1591.9 1035.2,1583.5 1035.2,1600.3"/>
<polygon points="1931.7,1591.9 1884.7,1600.3 1884.7,1583.5"/>
<polygon points="2259.9,1860.2 2268.3,1907.2 2251.5,1907.2"/>
<polygon points="2259.7,2427.1 2251.3,2380.1 2268.1,2380.1"/>
<polygon points="2103.1,2064.7 2111.6,2113.7 2094.6,2113.7"/>
<polygon points="2103.1,2427.1 2094.6,2378.1 2111.6,2378.1"/>
<polygon points="952.4,212.9 946.3,244.8 935.7,240.7"/>
<polygon points="873,420.4 879.1,388.5 889.7,392.6"/>
<polygon points="863.1,424.1 834.2,441 830.1,430.1"/>
<polygon points="721.7,476.4 752.7,459.1 756.7,470.4"/>
<polygon points="824.3,89.2 856.3,83.5 856.3,94.9"/>
<polygon points="1594.3,89.2 1562.3,94.9 1562.3,83.5"/>
<polygon points="2000.5,198.8 2008.7,246.3 1992.3,246.3"/>
<polygon points="1998.1,830 1989.9,782.5 2006.3,782.5"/>
<polygon points="1853.1,293.8 1858.8,325.3 1847.4,325.3"/>
<polygon points="1853.1,830 1847.4,798.5 1858.8,798.5"/>
<polygon points="1710.2,598.8 1718.6,644.8 1701.8,644.8"/>
<polygon points="1710.2,830 1701.8,784 1718.6,784"/>
<polygon points="1260.6,894 1266,924 1255.2,924"/>
<polygon points="1260.6,972 1255.2,942 1266,942"/>
<polygon points="615.5,1085.7 663.5,1077.9 663.5,1093.5"/>
<polygon points="1299.4,1085.7 1251.4,1093.5 1251.4,1077.9"/>
<polygon points="1374.2,1085.7 1404.7,1080 1404.7,1091.4"/>
<polygon points="1549.4,1085.7 1518.9,1091.4 1518.9,1080"/>
<polygon points="574.8,1239.4 622.8,1231.2 622.8,1247.6"/>
<polygon points="1350.3,1239.4 1302.3,1247.6 1302.3,1231.2"/>
<polygon points="1352.2,1239.4 1399.2,1231.2 1399.2,1247.6"/>
<polygon points="1609.6,1239.4 1562.6,1247.6 1562.6,1231.2"/>
</g>
<g>
<text x="496.3" y="1573.9" font-size="45.62">84.75&quot;</text>
<text x="1371.6" y="1580.1" font-size="45.36">109.00&quot;</text>
<text x="254.1" y="1776.4" font-size="46.35">551704LAF</text>
<text x="773.1" y="1773.3" font-size="46.33">551702</text>
<text x="1160.7" y="1777.3" font-size="44.45">551701</text>
<text x="1507.3" y="1773.3" font-size="46.26">551704RAF</text>
<text x="2201.4" y="2137.9" font-size="45.27">35.00&quot;</text>
<text x="2035.7" y="2262.3" font-size="45.74">24.00&quot;</text>
<text x="866.7" y="336.8" font-size="45.45">18.00&quot;</text>
<text x="775.6" y="472.7" font-size="45.53">22.00&quot;</text>
<text x="1146.5" y="80.1" font-size="42.62">51.50&quot;</text>
<text x="1941.8" y="461.5" font-size="45.69">35.00&quot;</text>
<text x="1797.8" y="564" font-size="45.57">29.00&quot;</text>
<text x="1651.8" y="733.2" font-size="45.59">18.50&quot;</text>
<text x="1124.8" y="946.6" font-size="45.30">3.75&quot;</text>
<text x="897.1" y="1079.2" font-size="45.60">45.50&quot;</text>
<text x="1405.3" y="1074.5" font-size="42.89">25.00&quot;</text>
<text x="898.2" y="1232.3" font-size="45.54">52.00&quot;</text>
<text x="1427.6" y="1233.9" font-size="45.17">32.00&quot;</text>
</g>
</svg></body></html>
